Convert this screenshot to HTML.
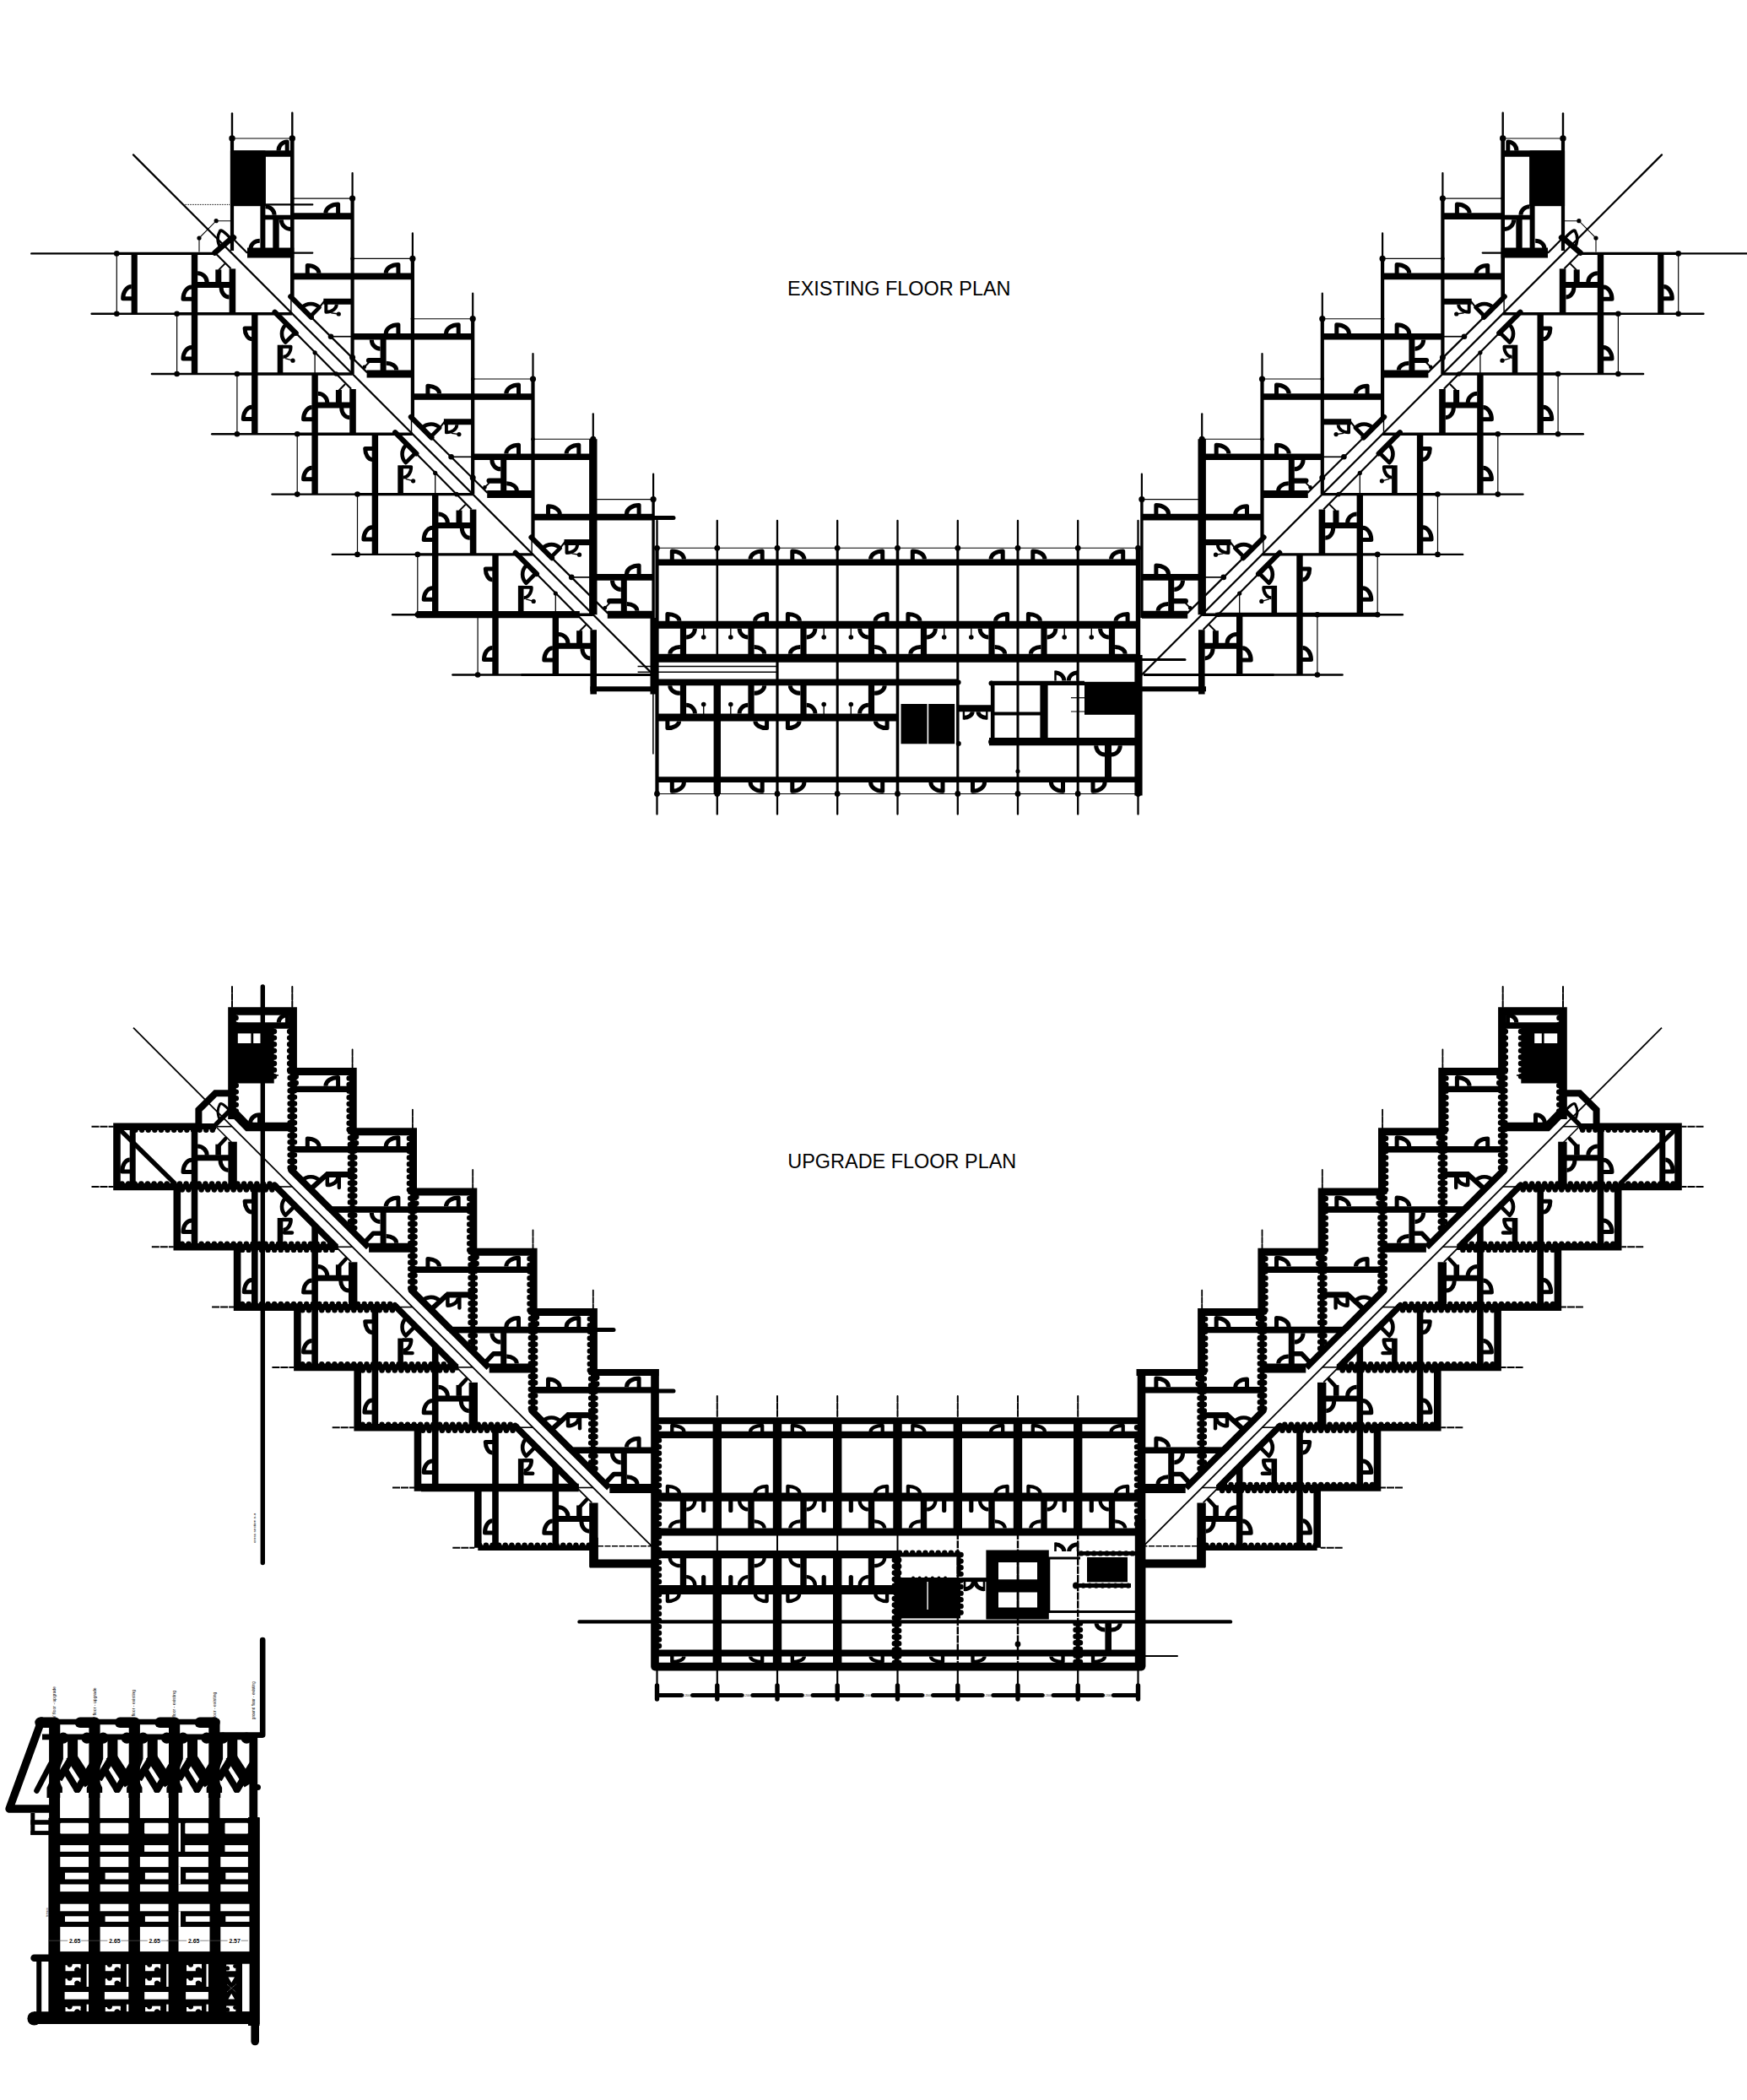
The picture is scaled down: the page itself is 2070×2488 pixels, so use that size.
<!DOCTYPE html>
<html><head><meta charset="utf-8"><title>Floor plans</title>
<style>html,body{margin:0;padding:0;background:#fff}svg{display:block}text{font-family:"Liberation Sans",sans-serif;fill:#000;stroke:none}</style></head><body>
<svg width="2070" height="2488" viewBox="0 0 2070 2488" fill="none" stroke="#000">
<rect width="2070" height="2488" fill="#fff" stroke="none"/>
<g><path d="M275 134.5L275 164" stroke-width="2.4" stroke-linecap="round"/>
<path d="M275 164L275 297" stroke-width="4.2"/>
<path d="M346.3 133.7L346.3 164" stroke-width="2.4" stroke-linecap="round"/>
<path d="M346.3 164L346.3 351.4" stroke-width="4.6"/>
<path d="M344.9 351.4L344.9 371.7" stroke-width="1.4"/>
<circle cx="275" cy="164" r="3.7" fill="#000" stroke="none"/>
<circle cx="346.3" cy="164" r="3.7" fill="#000" stroke="none"/>
<path d="M275 164L346.3 164" stroke-width="1.1"/>
<path d="M273 182L346.3 182" stroke-width="7.4"/>
<rect x="272.9" y="178.4" width="41.4" height="65.8" fill="#000" stroke="none"/>
<path d="M314.2 184L314.2 244" stroke-width="1.4"/>
<path d="M340.2 179.6L340.2 167.9A10.2 10.7 0 0 0 330 178.6" stroke-width="5" stroke-linejoin="round"/>
<path d="M346.3 299.6L370.3 299.6" stroke-width="2.2" stroke-linecap="round"/>
<path d="M311.4 244L311.4 299.5" stroke-width="6"/>
<path d="M314 257.5L346.3 257.5" stroke-width="5.4"/>
<path d="M327 260L327 294" stroke-width="7.4"/>
<path d="M293 299.5L348.3 299.5" stroke-width="12"/>
<path d="M314.4 244.7A10.7 10.1 0 0 1 325.1 254.8" stroke-width="5"/>
<path d="M333.3 260.2A10.9 11.2 0 0 0 344.2 271.4" stroke-width="5"/>
<path d="M297.1 294A10.7 8.7 0 0 1 307.8 285.3" stroke-width="5"/>
<path d="M275 261.7L256.1 261.7L236 282L236 298.6" stroke-width="1.1" stroke-linejoin="miter" stroke-linecap="butt"/>
<circle cx="256.1" cy="261.7" r="2.6" fill="#000" stroke="none"/>
<circle cx="236" cy="282" r="2.6" fill="#000" stroke="none"/>
<circle cx="277.5" cy="281.5" r="2.8" fill="#000" stroke="none"/>
<path d="M254.5 299.5L276 281" stroke-width="6.6" stroke-linecap="round"/>
<path d="M274 283.5Q262 270 260.5 274Q255 284 262 295" stroke-width="3.6" stroke-linejoin="round"/>
<path d="M275.6 282.3L293 299.7" stroke-width="2.2"/>
<path d="M158 183.4L775.5 800.9" stroke-width="2.2" stroke-linecap="round"/>
<path d="M253.5 298.2L273.5 318.2" stroke-width="2.2"/>
<path d="M774.1 561.6L774.1 591.6" stroke-width="2.2" stroke-linecap="round"/>
<path d="M774.1 591.6L774.1 732" stroke-width="3.4"/>
<path d="M37.3 300.4L138.3 300.4" stroke-width="2.4" stroke-linecap="round"/>
<path d="M138.3 300.4L256 300.4" stroke-width="3.4"/>
<path d="M138.3 300.4L138.3 371.7" stroke-width="1.2"/>
<circle cx="138.3" cy="300.4" r="3.3" fill="#000" stroke="none"/>
<circle cx="138.3" cy="371.7" r="3.3" fill="#000" stroke="none"/>
<path d="M159.2 300.4L159.2 371.7" stroke-width="7.2"/>
<path d="M230.5 300.4L230.5 443" stroke-width="7.4"/>
<path d="M156.8 353.8L145.7 353.8A10.1 14.2 0 0 1 155.8 339.6" stroke-width="5" stroke-linejoin="round"/>
<path d="M228.1 354.2L217 354.2A10.1 14.2 0 0 1 227.1 340" stroke-width="5" stroke-linejoin="round"/>
<path d="M230.5 337.4L275 337.4" stroke-width="7"/>
<path d="M275.4 318.4L275.4 371.7" stroke-width="7.6"/>
<path d="M258.8 319.4L258.8 334.4" stroke-width="7"/>
<path d="M234.1 323.7A11.1 10.7 0 0 1 245.2 334.4" stroke-width="5"/>
<path d="M262.1 340.4A9.5 11.7 0 0 0 271.6 352.1" stroke-width="5"/>
<path d="M259 319.9L266.5 312.4" stroke-width="2"/>
<path d="M108.6 371.7L209.6 371.7" stroke-width="2.4" stroke-linecap="round"/>
<path d="M209.6 371.7L346.3 371.7" stroke-width="3.4"/>
<path d="M209.6 371.7L209.6 443" stroke-width="1.2"/>
<circle cx="209.6" cy="371.7" r="3.3" fill="#000" stroke="none"/>
<circle cx="209.6" cy="443" r="3.3" fill="#000" stroke="none"/>
<path d="M301.8 371.7L301.8 514.3" stroke-width="7.4"/>
<path d="M228.1 425.1L217 425.1A10.1 13.5 0 0 1 227.1 411.6" stroke-width="5" stroke-linejoin="round"/>
<path d="M299.4 388.9L290.1 388.9A8.3 12.9 0 0 0 298.4 401.8" stroke-width="5" stroke-linejoin="round"/>
<path d="M325.6 369.7L350.7 394.8" stroke-width="6.2" stroke-linecap="round"/>
<path d="M350.7 394.8L416.1 460.8" stroke-width="2.2"/>
<path d="M348.5 395.3L338.2 405.6A14.6 14.6 0 0 1 338.2 385" stroke-width="4.6" stroke-linejoin="round"/>
<path d="M332 408.7L332 443" stroke-width="6.6"/>
<path d="M334.3 410.7L344.6 410.7A9.3 12.3 0 0 1 335.3 423" stroke-width="3.9" stroke-linejoin="round"/>
<circle cx="347" cy="427.2" r="2.6" fill="#000" stroke="none"/>
<path d="M338 424.7L347 427.2" stroke-width="1.4"/>
<path d="M373.1 417.8L373.1 443" stroke-width="1.3"/>
<circle cx="373.1" cy="417.8" r="2.6" fill="#000" stroke="none"/>
<circle cx="398.3" cy="443" r="2.8" fill="#000" stroke="none"/>
<path d="M179.9 443L280.9 443" stroke-width="2.4" stroke-linecap="round"/>
<path d="M280.9 443L417.6 443" stroke-width="3.4"/>
<path d="M280.9 443L280.9 514.3" stroke-width="1.2"/>
<circle cx="280.9" cy="443" r="3.3" fill="#000" stroke="none"/>
<circle cx="280.9" cy="514.3" r="3.3" fill="#000" stroke="none"/>
<path d="M373.1 443L373.1 585.6" stroke-width="7.4"/>
<path d="M299.4 496.4L288.3 496.4A10.1 14.2 0 0 1 298.4 482.2" stroke-width="5" stroke-linejoin="round"/>
<path d="M370.7 496.8L359.6 496.8A10.1 14.2 0 0 1 369.7 482.6" stroke-width="5" stroke-linejoin="round"/>
<path d="M373.1 480L417.6 480" stroke-width="7"/>
<path d="M418 461L418 514.3" stroke-width="7.6"/>
<path d="M401.4 462L401.4 477" stroke-width="7"/>
<path d="M376.7 466.3A11.1 10.7 0 0 1 387.8 477" stroke-width="5"/>
<path d="M404.7 483A9.5 11.7 0 0 0 414.2 494.7" stroke-width="5"/>
<path d="M401.6 462.5L409.1 455" stroke-width="2"/>
<path d="M251.2 514.3L352.2 514.3" stroke-width="2.4" stroke-linecap="round"/>
<path d="M352.2 514.3L488.9 514.3" stroke-width="3.4"/>
<path d="M352.2 514.3L352.2 585.6" stroke-width="1.2"/>
<circle cx="352.2" cy="514.3" r="3.3" fill="#000" stroke="none"/>
<circle cx="352.2" cy="585.6" r="3.3" fill="#000" stroke="none"/>
<path d="M444.4 514.3L444.4 656.9" stroke-width="7.4"/>
<path d="M370.7 567.7L359.6 567.7A10.1 13.5 0 0 1 369.7 554.2" stroke-width="5" stroke-linejoin="round"/>
<path d="M442 531.5L432.7 531.5A8.3 12.9 0 0 0 441 544.4" stroke-width="5" stroke-linejoin="round"/>
<path d="M468.2 512.3L493.3 537.4" stroke-width="6.2" stroke-linecap="round"/>
<path d="M493.3 537.4L558.7 603.4" stroke-width="2.2"/>
<path d="M491.1 537.9L480.8 548.2A14.6 14.6 0 0 1 480.8 527.6" stroke-width="4.6" stroke-linejoin="round"/>
<path d="M474.6 551.3L474.6 585.6" stroke-width="6.6"/>
<path d="M476.9 553.3L487.2 553.3A9.3 12.3 0 0 1 477.9 565.6" stroke-width="3.9" stroke-linejoin="round"/>
<circle cx="489.6" cy="569.8" r="2.6" fill="#000" stroke="none"/>
<path d="M480.6 567.3L489.6 569.8" stroke-width="1.4"/>
<path d="M515.7 560.4L515.7 585.6" stroke-width="1.3"/>
<circle cx="515.7" cy="560.4" r="2.6" fill="#000" stroke="none"/>
<circle cx="540.9" cy="585.6" r="2.8" fill="#000" stroke="none"/>
<path d="M322.5 585.6L423.5 585.6" stroke-width="2.4" stroke-linecap="round"/>
<path d="M423.5 585.6L560.2 585.6" stroke-width="3.4"/>
<path d="M423.5 585.6L423.5 656.9" stroke-width="1.2"/>
<circle cx="423.5" cy="585.6" r="3.3" fill="#000" stroke="none"/>
<circle cx="423.5" cy="656.9" r="3.3" fill="#000" stroke="none"/>
<path d="M515.7 585.6L515.7 728.2" stroke-width="7.4"/>
<path d="M442 639L430.9 639A10.1 14.2 0 0 1 441 624.8" stroke-width="5" stroke-linejoin="round"/>
<path d="M513.3 639.4L502.2 639.4A10.1 14.2 0 0 1 512.3 625.2" stroke-width="5" stroke-linejoin="round"/>
<path d="M515.7 622.6L560.2 622.6" stroke-width="7"/>
<path d="M560.6 603.6L560.6 656.9" stroke-width="7.6"/>
<path d="M544 604.6L544 619.6" stroke-width="7"/>
<path d="M519.3 608.9A11.1 10.7 0 0 1 530.4 619.6" stroke-width="5"/>
<path d="M547.3 625.6A9.5 11.7 0 0 0 556.8 637.3" stroke-width="5"/>
<path d="M544.2 605.1L551.7 597.6" stroke-width="2"/>
<path d="M393.8 656.9L494.8 656.9" stroke-width="2.4" stroke-linecap="round"/>
<path d="M494.8 656.9L631.5 656.9" stroke-width="3.4"/>
<path d="M494.8 656.9L494.8 728.2" stroke-width="1.2"/>
<circle cx="494.8" cy="656.9" r="3.3" fill="#000" stroke="none"/>
<circle cx="494.8" cy="728.2" r="3.3" fill="#000" stroke="none"/>
<path d="M587 656.9L587 799.5" stroke-width="7.4"/>
<path d="M513.3 710.3L502.2 710.3A10.1 13.5 0 0 1 512.3 696.8" stroke-width="5" stroke-linejoin="round"/>
<path d="M584.6 674.1L575.3 674.1A8.3 12.9 0 0 0 583.6 687" stroke-width="5" stroke-linejoin="round"/>
<path d="M610.8 654.9L635.9 680" stroke-width="6.2" stroke-linecap="round"/>
<path d="M635.9 680L701.3 746" stroke-width="2.2"/>
<path d="M633.7 680.5L623.4 690.8A14.6 14.6 0 0 1 623.4 670.2" stroke-width="4.6" stroke-linejoin="round"/>
<path d="M617.2 693.9L617.2 728.2" stroke-width="6.6"/>
<path d="M619.5 695.9L629.8 695.9A9.3 12.3 0 0 1 620.5 708.2" stroke-width="3.9" stroke-linejoin="round"/>
<circle cx="632.2" cy="712.4" r="2.6" fill="#000" stroke="none"/>
<path d="M623.2 709.9L632.2 712.4" stroke-width="1.4"/>
<path d="M658.3 703L658.3 728.2" stroke-width="1.3"/>
<circle cx="658.3" cy="703" r="2.6" fill="#000" stroke="none"/>
<circle cx="683.5" cy="728.2" r="2.8" fill="#000" stroke="none"/>
<path d="M465.1 728.2L566.1 728.2" stroke-width="2.4" stroke-linecap="round"/>
<path d="M566.1 728.2L702.8 728.2" stroke-width="3.4"/>
<path d="M493.6 728.2L686.8 728.2" stroke-width="8.2"/>
<path d="M566.1 728.2L566.1 799.5" stroke-width="1.2"/>
<circle cx="566.1" cy="728.2" r="3.3" fill="#000" stroke="none"/>
<circle cx="566.1" cy="799.5" r="3.3" fill="#000" stroke="none"/>
<path d="M658.3 728.2L658.3 799.5" stroke-width="7.4"/>
<path d="M584.6 781.6L573.5 781.6A10.1 14.2 0 0 1 583.6 767.4" stroke-width="5" stroke-linejoin="round"/>
<path d="M655.9 782L644.8 782A10.1 14.2 0 0 1 654.9 767.8" stroke-width="5" stroke-linejoin="round"/>
<path d="M658.3 765.2L702.8 765.2" stroke-width="7"/>
<path d="M703.2 746.2L703.2 822.5" stroke-width="7.6"/>
<path d="M686.6 747.2L686.6 762.2" stroke-width="7"/>
<path d="M661.9 751.5A11.1 10.7 0 0 1 673 762.2" stroke-width="5"/>
<path d="M689.9 768.2A9.5 11.7 0 0 0 699.4 779.9" stroke-width="5"/>
<path d="M686.8 747.7L694.3 740.2" stroke-width="2"/>
<path d="M536.4 799.5L617.4 799.5" stroke-width="2.4" stroke-linecap="round"/>
<path d="M617.4 799.5L772 799.5" stroke-width="3"/>
<path d="M417.6 205.1L417.6 235.1" stroke-width="2.2" stroke-linecap="round"/>
<path d="M417.6 235.1L417.6 443" stroke-width="4.2"/>
<path d="M346.3 235.1L417.6 235.1" stroke-width="1.1"/>
<circle cx="346.3" cy="235.1" r="2.3" fill="#000" stroke="none"/>
<circle cx="417.6" cy="235.1" r="3.6" fill="#000" stroke="none"/>
<path d="M346.3 256.1L417.6 256.1" stroke-width="7.6"/>
<path d="M400.6 253.4L400.6 242.1A14.7 10.3 0 0 0 385.9 252.4" stroke-width="5" stroke-linejoin="round"/>
<path d="M346.3 327.4L417.6 327.4" stroke-width="7.6"/>
<path d="M364.3 324.7L364.3 314.6A13.7 9.1 0 0 1 378 323.7" stroke-width="5" stroke-linejoin="round"/>
<path d="M344.3 351.4L368.8 375.9" stroke-width="6.2" stroke-linecap="round"/>
<path d="M383.3 357.2L417.6 357.2" stroke-width="7"/>
<path d="M368.2 374.5L378.5 364.2A14.6 14.6 0 0 0 357.9 364.2" stroke-width="4.6" stroke-linejoin="round"/>
<path d="M378.5 364.2L384.3 356.7" stroke-width="2"/>
<path d="M386.3 359.7L386.3 369.8A12.5 9.1 0 0 0 398.8 360.7" stroke-width="3.9" stroke-linejoin="round"/>
<circle cx="401.3" cy="372" r="2.6" fill="#000" stroke="none"/>
<path d="M392.3 370.7L401.3 372" stroke-width="1.4"/>
<path d="M368.8 375.9L435.1 441.4" stroke-width="2.2"/>
<path d="M488.9 276.4L488.9 306.4" stroke-width="2.2" stroke-linecap="round"/>
<path d="M488.9 306.4L488.9 494" stroke-width="4.2"/>
<path d="M487.5 494L487.5 514.3" stroke-width="1.4"/>
<path d="M417.6 306.4L488.9 306.4" stroke-width="1.1"/>
<circle cx="417.6" cy="306.4" r="2.3" fill="#000" stroke="none"/>
<circle cx="488.9" cy="306.4" r="3.6" fill="#000" stroke="none"/>
<path d="M417.6 327.4L488.9 327.4" stroke-width="7.6"/>
<path d="M471.9 324.7L471.9 313.4A14.7 10.3 0 0 0 457.2 323.7" stroke-width="5" stroke-linejoin="round"/>
<path d="M417.6 398.7L488.9 398.7" stroke-width="7.6"/>
<path d="M471.9 396L471.9 384.7A14.7 10.3 0 0 0 457.2 395" stroke-width="5" stroke-linejoin="round"/>
<path d="M454.1 398.7L454.1 443" stroke-width="7"/>
<path d="M434.6 443L488.9 443" stroke-width="9"/>
<path d="M437 427L450.6 427" stroke-width="6.2" stroke-linecap="round"/>
<path d="M440.3 402.5A10.3 10.7 0 0 0 450.6 413.2" stroke-width="5"/>
<path d="M457.6 430.2A12.1 8.3 0 0 1 469.7 438.5" stroke-width="5"/>
<path d="M392 398.7L417.6 398.7" stroke-width="1.7"/>
<circle cx="392" cy="398.7" r="3.3" fill="#000" stroke="none"/>
<circle cx="417.6" cy="423.4" r="3.5" fill="#000" stroke="none"/>
<path d="M432.1 434.5L437.1 429.5" stroke-width="1.8"/>
<circle cx="431.8" cy="434.8" r="2.3" fill="#000" stroke="none"/>
<path d="M560.2 347.7L560.2 377.7" stroke-width="2.2" stroke-linecap="round"/>
<path d="M560.2 377.7L560.2 585.6" stroke-width="4.2"/>
<path d="M488.9 377.7L560.2 377.7" stroke-width="1.1"/>
<circle cx="488.9" cy="377.7" r="2.3" fill="#000" stroke="none"/>
<circle cx="560.2" cy="377.7" r="3.6" fill="#000" stroke="none"/>
<path d="M488.9 398.7L560.2 398.7" stroke-width="7.6"/>
<path d="M543.2 396L543.2 384.7A14.7 10.3 0 0 0 528.5 395" stroke-width="5" stroke-linejoin="round"/>
<path d="M488.9 470L560.2 470" stroke-width="7.6"/>
<path d="M506.9 467.3L506.9 457.2A13.7 9.1 0 0 1 520.6 466.3" stroke-width="5" stroke-linejoin="round"/>
<path d="M486.9 494L511.4 518.5" stroke-width="6.2" stroke-linecap="round"/>
<path d="M525.9 499.8L560.2 499.8" stroke-width="7"/>
<path d="M510.8 517.1L521.1 506.8A14.6 14.6 0 0 0 500.5 506.8" stroke-width="4.6" stroke-linejoin="round"/>
<path d="M521.1 506.8L526.9 499.3" stroke-width="2"/>
<path d="M528.9 502.3L528.9 512.4A12.5 9.1 0 0 0 541.4 503.3" stroke-width="3.9" stroke-linejoin="round"/>
<circle cx="543.9" cy="514.6" r="2.6" fill="#000" stroke="none"/>
<path d="M534.9 513.3L543.9 514.6" stroke-width="1.4"/>
<path d="M511.4 518.5L577.7 584" stroke-width="2.2"/>
<path d="M631.5 419L631.5 449" stroke-width="2.2" stroke-linecap="round"/>
<path d="M631.5 449L631.5 636.6" stroke-width="4.2"/>
<path d="M630.1 636.6L630.1 656.9" stroke-width="1.4"/>
<path d="M560.2 449L631.5 449" stroke-width="1.1"/>
<circle cx="560.2" cy="449" r="2.3" fill="#000" stroke="none"/>
<circle cx="631.5" cy="449" r="3.6" fill="#000" stroke="none"/>
<path d="M560.2 470L631.5 470" stroke-width="7.6"/>
<path d="M614.5 467.3L614.5 456A14.7 10.3 0 0 0 599.8 466.3" stroke-width="5" stroke-linejoin="round"/>
<path d="M560.2 541.3L631.5 541.3" stroke-width="7.6"/>
<path d="M614.5 538.6L614.5 527.3A14.7 10.3 0 0 0 599.8 537.6" stroke-width="5" stroke-linejoin="round"/>
<path d="M596.7 541.3L596.7 585.6" stroke-width="7"/>
<path d="M577.2 585.6L631.5 585.6" stroke-width="9"/>
<path d="M579.6 569.6L593.2 569.6" stroke-width="6.2" stroke-linecap="round"/>
<path d="M582.9 545.1A10.3 10.7 0 0 0 593.2 555.8" stroke-width="5"/>
<path d="M600.2 572.8A12.1 8.3 0 0 1 612.3 581.1" stroke-width="5"/>
<path d="M534.6 541.3L560.2 541.3" stroke-width="1.7"/>
<circle cx="534.6" cy="541.3" r="3.3" fill="#000" stroke="none"/>
<circle cx="560.2" cy="566" r="3.5" fill="#000" stroke="none"/>
<path d="M574.7 577.1L579.7 572.1" stroke-width="1.8"/>
<circle cx="574.4" cy="577.4" r="2.3" fill="#000" stroke="none"/>
<path d="M702.8 490.3L702.8 520.3" stroke-width="2.2" stroke-linecap="round"/>
<path d="M702.8 520.3L702.8 728.2" stroke-width="9.4"/>
<path d="M631.5 520.3L702.8 520.3" stroke-width="1.1"/>
<circle cx="631.5" cy="520.3" r="2.3" fill="#000" stroke="none"/>
<circle cx="702.8" cy="520.3" r="3.6" fill="#000" stroke="none"/>
<path d="M631.5 541.3L702.8 541.3" stroke-width="7.6"/>
<path d="M685.8 538.6L685.8 527.3A14.7 10.3 0 0 0 671.1 537.6" stroke-width="5" stroke-linejoin="round"/>
<path d="M631.5 612.6L702.8 612.6" stroke-width="7.6"/>
<path d="M649.5 609.9L649.5 599.8A13.7 9.1 0 0 1 663.2 608.9" stroke-width="5" stroke-linejoin="round"/>
<path d="M629.5 636.6L654 661.1" stroke-width="6.2" stroke-linecap="round"/>
<path d="M668.5 642.4L702.8 642.4" stroke-width="7"/>
<path d="M653.4 659.7L663.7 649.4A14.6 14.6 0 0 0 643.1 649.4" stroke-width="4.6" stroke-linejoin="round"/>
<path d="M663.7 649.4L669.5 641.9" stroke-width="2"/>
<path d="M671.5 644.9L671.5 655A12.5 9.1 0 0 0 684 645.9" stroke-width="3.9" stroke-linejoin="round"/>
<circle cx="686.5" cy="657.2" r="2.6" fill="#000" stroke="none"/>
<path d="M677.5 655.9L686.5 657.2" stroke-width="1.4"/>
<path d="M654 661.1L720.3 726.6" stroke-width="2.2"/>
<path d="M702.8 591.6L774.1 591.6" stroke-width="1.1"/>
<circle cx="702.8" cy="591.6" r="2.3" fill="#000" stroke="none"/>
<circle cx="774.1" cy="591.6" r="3.6" fill="#000" stroke="none"/>
<path d="M702.8 612.6L774.1 612.6" stroke-width="7.6"/>
<path d="M757.1 609.9L757.1 598.6A14.7 10.3 0 0 0 742.4 608.9" stroke-width="5" stroke-linejoin="round"/>
<path d="M702.8 683.9L774.1 683.9" stroke-width="7.6"/>
<path d="M757.1 681.2L757.1 669.9A14.7 10.3 0 0 0 742.4 680.2" stroke-width="5" stroke-linejoin="round"/>
<path d="M739.3 683.9L739.3 728.2" stroke-width="7"/>
<path d="M719.8 728.2L774.1 728.2" stroke-width="9"/>
<path d="M722.2 712.2L735.8 712.2" stroke-width="6.2" stroke-linecap="round"/>
<path d="M725.5 687.7A10.3 10.7 0 0 0 735.8 698.4" stroke-width="5"/>
<path d="M742.8 715.4A12.1 8.3 0 0 1 754.9 723.7" stroke-width="5"/>
<path d="M677.2 683.9L702.8 683.9" stroke-width="1.7"/>
<circle cx="677.2" cy="683.9" r="3.3" fill="#000" stroke="none"/>
<circle cx="702.8" cy="708.6" r="3.5" fill="#000" stroke="none"/>
<path d="M717.3 719.7L722.3 714.7" stroke-width="1.8"/>
<circle cx="717" cy="720" r="2.3" fill="#000" stroke="none"/></g>
<path d="M314 242.4H370.3" stroke-width="2.2" stroke-linecap="round"/><path d="M219 242.4H273" stroke-width="1" stroke-dasharray="1 1"/>
<g transform="translate(2127 0) scale(-1 1)"><path d="M275 134.5L275 164" stroke-width="2.4" stroke-linecap="round"/>
<path d="M275 164L275 297" stroke-width="4.2"/>
<path d="M346.3 133.7L346.3 164" stroke-width="2.4" stroke-linecap="round"/>
<path d="M346.3 164L346.3 351.4" stroke-width="4.6"/>
<path d="M344.9 351.4L344.9 371.7" stroke-width="1.4"/>
<circle cx="275" cy="164" r="3.7" fill="#000" stroke="none"/>
<circle cx="346.3" cy="164" r="3.7" fill="#000" stroke="none"/>
<path d="M275 164L346.3 164" stroke-width="1.1"/>
<path d="M273 182L346.3 182" stroke-width="7.4"/>
<rect x="272.9" y="178.4" width="41.4" height="65.8" fill="#000" stroke="none"/>
<path d="M314.2 184L314.2 244" stroke-width="1.4"/>
<path d="M340.2 179.6L340.2 167.9A10.2 10.7 0 0 0 330 178.6" stroke-width="5" stroke-linejoin="round"/>
<path d="M346.3 299.6L370.3 299.6" stroke-width="2.2" stroke-linecap="round"/>
<path d="M311.4 244L311.4 299.5" stroke-width="6"/>
<path d="M314 257.5L346.3 257.5" stroke-width="5.4"/>
<path d="M327 260L327 294" stroke-width="7.4"/>
<path d="M293 299.5L348.3 299.5" stroke-width="12"/>
<path d="M314.4 244.7A10.7 10.1 0 0 1 325.1 254.8" stroke-width="5"/>
<path d="M333.3 260.2A10.9 11.2 0 0 0 344.2 271.4" stroke-width="5"/>
<path d="M297.1 294A10.7 8.7 0 0 1 307.8 285.3" stroke-width="5"/>
<path d="M275 261.7L256.1 261.7L236 282L236 298.6" stroke-width="1.1" stroke-linejoin="miter" stroke-linecap="butt"/>
<circle cx="256.1" cy="261.7" r="2.6" fill="#000" stroke="none"/>
<circle cx="236" cy="282" r="2.6" fill="#000" stroke="none"/>
<circle cx="277.5" cy="281.5" r="2.8" fill="#000" stroke="none"/>
<path d="M254.5 299.5L276 281" stroke-width="6.6" stroke-linecap="round"/>
<path d="M274 283.5Q262 270 260.5 274Q255 284 262 295" stroke-width="3.6" stroke-linejoin="round"/>
<path d="M275.6 282.3L293 299.7" stroke-width="2.2"/>
<path d="M158 183.4L775.5 800.9" stroke-width="2.2" stroke-linecap="round"/>
<path d="M253.5 298.2L273.5 318.2" stroke-width="2.2"/>
<path d="M774.1 561.6L774.1 591.6" stroke-width="2.2" stroke-linecap="round"/>
<path d="M774.1 591.6L774.1 732" stroke-width="3.4"/>
<path d="M37.3 300.4L138.3 300.4" stroke-width="2.4" stroke-linecap="round"/>
<path d="M138.3 300.4L256 300.4" stroke-width="3.4"/>
<path d="M138.3 300.4L138.3 371.7" stroke-width="1.2"/>
<circle cx="138.3" cy="300.4" r="3.3" fill="#000" stroke="none"/>
<circle cx="138.3" cy="371.7" r="3.3" fill="#000" stroke="none"/>
<path d="M159.2 300.4L159.2 371.7" stroke-width="7.2"/>
<path d="M230.5 300.4L230.5 443" stroke-width="7.4"/>
<path d="M156.8 353.8L145.7 353.8A10.1 14.2 0 0 1 155.8 339.6" stroke-width="5" stroke-linejoin="round"/>
<path d="M228.1 354.2L217 354.2A10.1 14.2 0 0 1 227.1 340" stroke-width="5" stroke-linejoin="round"/>
<path d="M230.5 337.4L275 337.4" stroke-width="7"/>
<path d="M275.4 318.4L275.4 371.7" stroke-width="7.6"/>
<path d="M258.8 319.4L258.8 334.4" stroke-width="7"/>
<path d="M234.1 323.7A11.1 10.7 0 0 1 245.2 334.4" stroke-width="5"/>
<path d="M262.1 340.4A9.5 11.7 0 0 0 271.6 352.1" stroke-width="5"/>
<path d="M259 319.9L266.5 312.4" stroke-width="2"/>
<path d="M108.6 371.7L209.6 371.7" stroke-width="2.4" stroke-linecap="round"/>
<path d="M209.6 371.7L346.3 371.7" stroke-width="3.4"/>
<path d="M209.6 371.7L209.6 443" stroke-width="1.2"/>
<circle cx="209.6" cy="371.7" r="3.3" fill="#000" stroke="none"/>
<circle cx="209.6" cy="443" r="3.3" fill="#000" stroke="none"/>
<path d="M301.8 371.7L301.8 514.3" stroke-width="7.4"/>
<path d="M228.1 425.1L217 425.1A10.1 13.5 0 0 1 227.1 411.6" stroke-width="5" stroke-linejoin="round"/>
<path d="M299.4 388.9L290.1 388.9A8.3 12.9 0 0 0 298.4 401.8" stroke-width="5" stroke-linejoin="round"/>
<path d="M325.6 369.7L350.7 394.8" stroke-width="6.2" stroke-linecap="round"/>
<path d="M350.7 394.8L416.1 460.8" stroke-width="2.2"/>
<path d="M348.5 395.3L338.2 405.6A14.6 14.6 0 0 1 338.2 385" stroke-width="4.6" stroke-linejoin="round"/>
<path d="M332 408.7L332 443" stroke-width="6.6"/>
<path d="M334.3 410.7L344.6 410.7A9.3 12.3 0 0 1 335.3 423" stroke-width="3.9" stroke-linejoin="round"/>
<circle cx="347" cy="427.2" r="2.6" fill="#000" stroke="none"/>
<path d="M338 424.7L347 427.2" stroke-width="1.4"/>
<path d="M373.1 417.8L373.1 443" stroke-width="1.3"/>
<circle cx="373.1" cy="417.8" r="2.6" fill="#000" stroke="none"/>
<circle cx="398.3" cy="443" r="2.8" fill="#000" stroke="none"/>
<path d="M179.9 443L280.9 443" stroke-width="2.4" stroke-linecap="round"/>
<path d="M280.9 443L417.6 443" stroke-width="3.4"/>
<path d="M280.9 443L280.9 514.3" stroke-width="1.2"/>
<circle cx="280.9" cy="443" r="3.3" fill="#000" stroke="none"/>
<circle cx="280.9" cy="514.3" r="3.3" fill="#000" stroke="none"/>
<path d="M373.1 443L373.1 585.6" stroke-width="7.4"/>
<path d="M299.4 496.4L288.3 496.4A10.1 14.2 0 0 1 298.4 482.2" stroke-width="5" stroke-linejoin="round"/>
<path d="M370.7 496.8L359.6 496.8A10.1 14.2 0 0 1 369.7 482.6" stroke-width="5" stroke-linejoin="round"/>
<path d="M373.1 480L417.6 480" stroke-width="7"/>
<path d="M418 461L418 514.3" stroke-width="7.6"/>
<path d="M401.4 462L401.4 477" stroke-width="7"/>
<path d="M376.7 466.3A11.1 10.7 0 0 1 387.8 477" stroke-width="5"/>
<path d="M404.7 483A9.5 11.7 0 0 0 414.2 494.7" stroke-width="5"/>
<path d="M401.6 462.5L409.1 455" stroke-width="2"/>
<path d="M251.2 514.3L352.2 514.3" stroke-width="2.4" stroke-linecap="round"/>
<path d="M352.2 514.3L488.9 514.3" stroke-width="3.4"/>
<path d="M352.2 514.3L352.2 585.6" stroke-width="1.2"/>
<circle cx="352.2" cy="514.3" r="3.3" fill="#000" stroke="none"/>
<circle cx="352.2" cy="585.6" r="3.3" fill="#000" stroke="none"/>
<path d="M444.4 514.3L444.4 656.9" stroke-width="7.4"/>
<path d="M370.7 567.7L359.6 567.7A10.1 13.5 0 0 1 369.7 554.2" stroke-width="5" stroke-linejoin="round"/>
<path d="M442 531.5L432.7 531.5A8.3 12.9 0 0 0 441 544.4" stroke-width="5" stroke-linejoin="round"/>
<path d="M468.2 512.3L493.3 537.4" stroke-width="6.2" stroke-linecap="round"/>
<path d="M493.3 537.4L558.7 603.4" stroke-width="2.2"/>
<path d="M491.1 537.9L480.8 548.2A14.6 14.6 0 0 1 480.8 527.6" stroke-width="4.6" stroke-linejoin="round"/>
<path d="M474.6 551.3L474.6 585.6" stroke-width="6.6"/>
<path d="M476.9 553.3L487.2 553.3A9.3 12.3 0 0 1 477.9 565.6" stroke-width="3.9" stroke-linejoin="round"/>
<circle cx="489.6" cy="569.8" r="2.6" fill="#000" stroke="none"/>
<path d="M480.6 567.3L489.6 569.8" stroke-width="1.4"/>
<path d="M515.7 560.4L515.7 585.6" stroke-width="1.3"/>
<circle cx="515.7" cy="560.4" r="2.6" fill="#000" stroke="none"/>
<circle cx="540.9" cy="585.6" r="2.8" fill="#000" stroke="none"/>
<path d="M322.5 585.6L423.5 585.6" stroke-width="2.4" stroke-linecap="round"/>
<path d="M423.5 585.6L560.2 585.6" stroke-width="3.4"/>
<path d="M423.5 585.6L423.5 656.9" stroke-width="1.2"/>
<circle cx="423.5" cy="585.6" r="3.3" fill="#000" stroke="none"/>
<circle cx="423.5" cy="656.9" r="3.3" fill="#000" stroke="none"/>
<path d="M515.7 585.6L515.7 728.2" stroke-width="7.4"/>
<path d="M442 639L430.9 639A10.1 14.2 0 0 1 441 624.8" stroke-width="5" stroke-linejoin="round"/>
<path d="M513.3 639.4L502.2 639.4A10.1 14.2 0 0 1 512.3 625.2" stroke-width="5" stroke-linejoin="round"/>
<path d="M515.7 622.6L560.2 622.6" stroke-width="7"/>
<path d="M560.6 603.6L560.6 656.9" stroke-width="7.6"/>
<path d="M544 604.6L544 619.6" stroke-width="7"/>
<path d="M519.3 608.9A11.1 10.7 0 0 1 530.4 619.6" stroke-width="5"/>
<path d="M547.3 625.6A9.5 11.7 0 0 0 556.8 637.3" stroke-width="5"/>
<path d="M544.2 605.1L551.7 597.6" stroke-width="2"/>
<path d="M393.8 656.9L494.8 656.9" stroke-width="2.4" stroke-linecap="round"/>
<path d="M494.8 656.9L631.5 656.9" stroke-width="3.4"/>
<path d="M494.8 656.9L494.8 728.2" stroke-width="1.2"/>
<circle cx="494.8" cy="656.9" r="3.3" fill="#000" stroke="none"/>
<circle cx="494.8" cy="728.2" r="3.3" fill="#000" stroke="none"/>
<path d="M587 656.9L587 799.5" stroke-width="7.4"/>
<path d="M513.3 710.3L502.2 710.3A10.1 13.5 0 0 1 512.3 696.8" stroke-width="5" stroke-linejoin="round"/>
<path d="M584.6 674.1L575.3 674.1A8.3 12.9 0 0 0 583.6 687" stroke-width="5" stroke-linejoin="round"/>
<path d="M610.8 654.9L635.9 680" stroke-width="6.2" stroke-linecap="round"/>
<path d="M635.9 680L701.3 746" stroke-width="2.2"/>
<path d="M633.7 680.5L623.4 690.8A14.6 14.6 0 0 1 623.4 670.2" stroke-width="4.6" stroke-linejoin="round"/>
<path d="M617.2 693.9L617.2 728.2" stroke-width="6.6"/>
<path d="M619.5 695.9L629.8 695.9A9.3 12.3 0 0 1 620.5 708.2" stroke-width="3.9" stroke-linejoin="round"/>
<circle cx="632.2" cy="712.4" r="2.6" fill="#000" stroke="none"/>
<path d="M623.2 709.9L632.2 712.4" stroke-width="1.4"/>
<path d="M658.3 703L658.3 728.2" stroke-width="1.3"/>
<circle cx="658.3" cy="703" r="2.6" fill="#000" stroke="none"/>
<circle cx="683.5" cy="728.2" r="2.8" fill="#000" stroke="none"/>
<path d="M465.1 728.2L566.1 728.2" stroke-width="2.4" stroke-linecap="round"/>
<path d="M566.1 728.2L702.8 728.2" stroke-width="3.4"/>
<path d="M493.6 728.2L686.8 728.2" stroke-width="5"/>
<path d="M566.1 728.2L566.1 799.5" stroke-width="1.2"/>
<circle cx="566.1" cy="728.2" r="3.3" fill="#000" stroke="none"/>
<circle cx="566.1" cy="799.5" r="3.3" fill="#000" stroke="none"/>
<path d="M658.3 728.2L658.3 799.5" stroke-width="7.4"/>
<path d="M584.6 781.6L573.5 781.6A10.1 14.2 0 0 1 583.6 767.4" stroke-width="5" stroke-linejoin="round"/>
<path d="M655.9 782L644.8 782A10.1 14.2 0 0 1 654.9 767.8" stroke-width="5" stroke-linejoin="round"/>
<path d="M658.3 765.2L702.8 765.2" stroke-width="7"/>
<path d="M703.2 746.2L703.2 822.5" stroke-width="7.6"/>
<path d="M686.6 747.2L686.6 762.2" stroke-width="7"/>
<path d="M661.9 751.5A11.1 10.7 0 0 1 673 762.2" stroke-width="5"/>
<path d="M689.9 768.2A9.5 11.7 0 0 0 699.4 779.9" stroke-width="5"/>
<path d="M686.8 747.7L694.3 740.2" stroke-width="2"/>
<path d="M536.4 799.5L617.4 799.5" stroke-width="2.4" stroke-linecap="round"/>
<path d="M617.4 799.5L772 799.5" stroke-width="3"/>
<path d="M417.6 205.1L417.6 235.1" stroke-width="2.2" stroke-linecap="round"/>
<path d="M417.6 235.1L417.6 443" stroke-width="4.2"/>
<path d="M346.3 235.1L417.6 235.1" stroke-width="1.1"/>
<circle cx="346.3" cy="235.1" r="2.3" fill="#000" stroke="none"/>
<circle cx="417.6" cy="235.1" r="3.6" fill="#000" stroke="none"/>
<path d="M346.3 256.1L417.6 256.1" stroke-width="7.6"/>
<path d="M400.6 253.4L400.6 242.1A14.7 10.3 0 0 0 385.9 252.4" stroke-width="5" stroke-linejoin="round"/>
<path d="M346.3 327.4L417.6 327.4" stroke-width="7.6"/>
<path d="M364.3 324.7L364.3 314.6A13.7 9.1 0 0 1 378 323.7" stroke-width="5" stroke-linejoin="round"/>
<path d="M344.3 351.4L368.8 375.9" stroke-width="6.2" stroke-linecap="round"/>
<path d="M383.3 357.2L417.6 357.2" stroke-width="7"/>
<path d="M368.2 374.5L378.5 364.2A14.6 14.6 0 0 0 357.9 364.2" stroke-width="4.6" stroke-linejoin="round"/>
<path d="M378.5 364.2L384.3 356.7" stroke-width="2"/>
<path d="M386.3 359.7L386.3 369.8A12.5 9.1 0 0 0 398.8 360.7" stroke-width="3.9" stroke-linejoin="round"/>
<circle cx="401.3" cy="372" r="2.6" fill="#000" stroke="none"/>
<path d="M392.3 370.7L401.3 372" stroke-width="1.4"/>
<path d="M368.8 375.9L435.1 441.4" stroke-width="2.2"/>
<path d="M488.9 276.4L488.9 306.4" stroke-width="2.2" stroke-linecap="round"/>
<path d="M488.9 306.4L488.9 494" stroke-width="4.2"/>
<path d="M487.5 494L487.5 514.3" stroke-width="1.4"/>
<path d="M417.6 306.4L488.9 306.4" stroke-width="1.1"/>
<circle cx="417.6" cy="306.4" r="2.3" fill="#000" stroke="none"/>
<circle cx="488.9" cy="306.4" r="3.6" fill="#000" stroke="none"/>
<path d="M417.6 327.4L488.9 327.4" stroke-width="7.6"/>
<path d="M471.9 324.7L471.9 313.4A14.7 10.3 0 0 0 457.2 323.7" stroke-width="5" stroke-linejoin="round"/>
<path d="M417.6 398.7L488.9 398.7" stroke-width="7.6"/>
<path d="M471.9 396L471.9 384.7A14.7 10.3 0 0 0 457.2 395" stroke-width="5" stroke-linejoin="round"/>
<path d="M454.1 398.7L454.1 443" stroke-width="7"/>
<path d="M434.6 443L488.9 443" stroke-width="9"/>
<path d="M437 427L450.6 427" stroke-width="6.2" stroke-linecap="round"/>
<path d="M440.3 402.5A10.3 10.7 0 0 0 450.6 413.2" stroke-width="5"/>
<path d="M457.6 430.2A12.1 8.3 0 0 1 469.7 438.5" stroke-width="5"/>
<path d="M392 398.7L417.6 398.7" stroke-width="1.7"/>
<circle cx="392" cy="398.7" r="3.3" fill="#000" stroke="none"/>
<circle cx="417.6" cy="423.4" r="3.5" fill="#000" stroke="none"/>
<path d="M432.1 434.5L437.1 429.5" stroke-width="1.8"/>
<circle cx="431.8" cy="434.8" r="2.3" fill="#000" stroke="none"/>
<path d="M560.2 347.7L560.2 377.7" stroke-width="2.2" stroke-linecap="round"/>
<path d="M560.2 377.7L560.2 585.6" stroke-width="4.2"/>
<path d="M488.9 377.7L560.2 377.7" stroke-width="1.1"/>
<circle cx="488.9" cy="377.7" r="2.3" fill="#000" stroke="none"/>
<circle cx="560.2" cy="377.7" r="3.6" fill="#000" stroke="none"/>
<path d="M488.9 398.7L560.2 398.7" stroke-width="7.6"/>
<path d="M543.2 396L543.2 384.7A14.7 10.3 0 0 0 528.5 395" stroke-width="5" stroke-linejoin="round"/>
<path d="M488.9 470L560.2 470" stroke-width="7.6"/>
<path d="M506.9 467.3L506.9 457.2A13.7 9.1 0 0 1 520.6 466.3" stroke-width="5" stroke-linejoin="round"/>
<path d="M486.9 494L511.4 518.5" stroke-width="6.2" stroke-linecap="round"/>
<path d="M525.9 499.8L560.2 499.8" stroke-width="7"/>
<path d="M510.8 517.1L521.1 506.8A14.6 14.6 0 0 0 500.5 506.8" stroke-width="4.6" stroke-linejoin="round"/>
<path d="M521.1 506.8L526.9 499.3" stroke-width="2"/>
<path d="M528.9 502.3L528.9 512.4A12.5 9.1 0 0 0 541.4 503.3" stroke-width="3.9" stroke-linejoin="round"/>
<circle cx="543.9" cy="514.6" r="2.6" fill="#000" stroke="none"/>
<path d="M534.9 513.3L543.9 514.6" stroke-width="1.4"/>
<path d="M511.4 518.5L577.7 584" stroke-width="2.2"/>
<path d="M631.5 419L631.5 449" stroke-width="2.2" stroke-linecap="round"/>
<path d="M631.5 449L631.5 636.6" stroke-width="4.2"/>
<path d="M630.1 636.6L630.1 656.9" stroke-width="1.4"/>
<path d="M560.2 449L631.5 449" stroke-width="1.1"/>
<circle cx="560.2" cy="449" r="2.3" fill="#000" stroke="none"/>
<circle cx="631.5" cy="449" r="3.6" fill="#000" stroke="none"/>
<path d="M560.2 470L631.5 470" stroke-width="7.6"/>
<path d="M614.5 467.3L614.5 456A14.7 10.3 0 0 0 599.8 466.3" stroke-width="5" stroke-linejoin="round"/>
<path d="M560.2 541.3L631.5 541.3" stroke-width="7.6"/>
<path d="M614.5 538.6L614.5 527.3A14.7 10.3 0 0 0 599.8 537.6" stroke-width="5" stroke-linejoin="round"/>
<path d="M596.7 541.3L596.7 585.6" stroke-width="7"/>
<path d="M577.2 585.6L631.5 585.6" stroke-width="9"/>
<path d="M579.6 569.6L593.2 569.6" stroke-width="6.2" stroke-linecap="round"/>
<path d="M582.9 545.1A10.3 10.7 0 0 0 593.2 555.8" stroke-width="5"/>
<path d="M600.2 572.8A12.1 8.3 0 0 1 612.3 581.1" stroke-width="5"/>
<path d="M534.6 541.3L560.2 541.3" stroke-width="1.7"/>
<circle cx="534.6" cy="541.3" r="3.3" fill="#000" stroke="none"/>
<circle cx="560.2" cy="566" r="3.5" fill="#000" stroke="none"/>
<path d="M574.7 577.1L579.7 572.1" stroke-width="1.8"/>
<circle cx="574.4" cy="577.4" r="2.3" fill="#000" stroke="none"/>
<path d="M702.8 490.3L702.8 520.3" stroke-width="2.2" stroke-linecap="round"/>
<path d="M702.8 520.3L702.8 728.2" stroke-width="9.4"/>
<path d="M631.5 520.3L702.8 520.3" stroke-width="1.1"/>
<circle cx="631.5" cy="520.3" r="2.3" fill="#000" stroke="none"/>
<circle cx="702.8" cy="520.3" r="3.6" fill="#000" stroke="none"/>
<path d="M631.5 541.3L702.8 541.3" stroke-width="7.6"/>
<path d="M685.8 538.6L685.8 527.3A14.7 10.3 0 0 0 671.1 537.6" stroke-width="5" stroke-linejoin="round"/>
<path d="M631.5 612.6L702.8 612.6" stroke-width="7.6"/>
<path d="M649.5 609.9L649.5 599.8A13.7 9.1 0 0 1 663.2 608.9" stroke-width="5" stroke-linejoin="round"/>
<path d="M629.5 636.6L654 661.1" stroke-width="6.2" stroke-linecap="round"/>
<path d="M668.5 642.4L702.8 642.4" stroke-width="7"/>
<path d="M653.4 659.7L663.7 649.4A14.6 14.6 0 0 0 643.1 649.4" stroke-width="4.6" stroke-linejoin="round"/>
<path d="M663.7 649.4L669.5 641.9" stroke-width="2"/>
<path d="M671.5 644.9L671.5 655A12.5 9.1 0 0 0 684 645.9" stroke-width="3.9" stroke-linejoin="round"/>
<circle cx="686.5" cy="657.2" r="2.6" fill="#000" stroke="none"/>
<path d="M677.5 655.9L686.5 657.2" stroke-width="1.4"/>
<path d="M654 661.1L720.3 726.6" stroke-width="2.2"/>
<path d="M702.8 591.6L774.1 591.6" stroke-width="1.1"/>
<circle cx="702.8" cy="591.6" r="2.3" fill="#000" stroke="none"/>
<circle cx="774.1" cy="591.6" r="3.6" fill="#000" stroke="none"/>
<path d="M702.8 612.6L774.1 612.6" stroke-width="7.6"/>
<path d="M757.1 609.9L757.1 598.6A14.7 10.3 0 0 0 742.4 608.9" stroke-width="5" stroke-linejoin="round"/>
<path d="M702.8 683.9L774.1 683.9" stroke-width="7.6"/>
<path d="M757.1 681.2L757.1 669.9A14.7 10.3 0 0 0 742.4 680.2" stroke-width="5" stroke-linejoin="round"/>
<path d="M739.3 683.9L739.3 728.2" stroke-width="7"/>
<path d="M719.8 728.2L774.1 728.2" stroke-width="9"/>
<path d="M722.2 712.2L735.8 712.2" stroke-width="6.2" stroke-linecap="round"/>
<path d="M725.5 687.7A10.3 10.7 0 0 0 735.8 698.4" stroke-width="5"/>
<path d="M742.8 715.4A12.1 8.3 0 0 1 754.9 723.7" stroke-width="5"/>
<path d="M677.2 683.9L702.8 683.9" stroke-width="1.7"/>
<circle cx="677.2" cy="683.9" r="3.3" fill="#000" stroke="none"/>
<circle cx="702.8" cy="708.6" r="3.5" fill="#000" stroke="none"/>
<path d="M717.3 719.7L722.3 714.7" stroke-width="1.8"/>
<circle cx="717" cy="720" r="2.3" fill="#000" stroke="none"/></g>
<g><path d="M778.5 617L778.5 649.3" stroke-width="2.3" stroke-linecap="round"/>
<path d="M778.5 940.5L778.5 964.5" stroke-width="2.3" stroke-linecap="round"/>
<circle cx="778.5" cy="649.3" r="3.4" fill="#000" stroke="none"/>
<circle cx="778.5" cy="940.5" r="3.4" fill="#000" stroke="none"/>
<path d="M849.8 617L849.8 649.3" stroke-width="2.3" stroke-linecap="round"/>
<path d="M849.8 940.5L849.8 964.5" stroke-width="2.3" stroke-linecap="round"/>
<circle cx="849.8" cy="649.3" r="3.4" fill="#000" stroke="none"/>
<circle cx="849.8" cy="940.5" r="3.4" fill="#000" stroke="none"/>
<path d="M921 617L921 649.3" stroke-width="2.3" stroke-linecap="round"/>
<path d="M921 940.5L921 964.5" stroke-width="2.3" stroke-linecap="round"/>
<circle cx="921" cy="649.3" r="3.4" fill="#000" stroke="none"/>
<circle cx="921" cy="940.5" r="3.4" fill="#000" stroke="none"/>
<path d="M992.2 617L992.2 649.3" stroke-width="2.3" stroke-linecap="round"/>
<path d="M992.2 940.5L992.2 964.5" stroke-width="2.3" stroke-linecap="round"/>
<circle cx="992.2" cy="649.3" r="3.4" fill="#000" stroke="none"/>
<circle cx="992.2" cy="940.5" r="3.4" fill="#000" stroke="none"/>
<path d="M1063.5 617L1063.5 649.3" stroke-width="2.3" stroke-linecap="round"/>
<path d="M1063.5 940.5L1063.5 964.5" stroke-width="2.3" stroke-linecap="round"/>
<circle cx="1063.5" cy="649.3" r="3.4" fill="#000" stroke="none"/>
<circle cx="1063.5" cy="940.5" r="3.4" fill="#000" stroke="none"/>
<path d="M1134.8 617L1134.8 649.3" stroke-width="2.3" stroke-linecap="round"/>
<path d="M1134.8 940.5L1134.8 964.5" stroke-width="2.3" stroke-linecap="round"/>
<circle cx="1134.8" cy="649.3" r="3.4" fill="#000" stroke="none"/>
<circle cx="1134.8" cy="940.5" r="3.4" fill="#000" stroke="none"/>
<path d="M1206 617L1206 649.3" stroke-width="2.3" stroke-linecap="round"/>
<path d="M1206 940.5L1206 964.5" stroke-width="2.3" stroke-linecap="round"/>
<circle cx="1206" cy="649.3" r="3.4" fill="#000" stroke="none"/>
<circle cx="1206" cy="940.5" r="3.4" fill="#000" stroke="none"/>
<path d="M1277.2 617L1277.2 649.3" stroke-width="2.3" stroke-linecap="round"/>
<path d="M1277.2 940.5L1277.2 964.5" stroke-width="2.3" stroke-linecap="round"/>
<circle cx="1277.2" cy="649.3" r="3.4" fill="#000" stroke="none"/>
<circle cx="1277.2" cy="940.5" r="3.4" fill="#000" stroke="none"/>
<path d="M1348.5 617L1348.5 649.3" stroke-width="2.3" stroke-linecap="round"/>
<path d="M1348.5 940.5L1348.5 964.5" stroke-width="2.3" stroke-linecap="round"/>
<circle cx="1348.5" cy="649.3" r="3.4" fill="#000" stroke="none"/>
<circle cx="1348.5" cy="940.5" r="3.4" fill="#000" stroke="none"/>
<path d="M778.5 649.3L1348.5 649.3" stroke-width="1.1"/>
<path d="M778.5 940.5L1348.5 940.5" stroke-width="1.1"/>
<path d="M778.5 649.3L778.5 940.5" stroke-width="4.2"/>
<path d="M774.5 732L774.5 822.6" stroke-width="8"/>
<path d="M773.9 822L773.9 893.6" stroke-width="1.5"/>
<path d="M849.8 649.3L849.8 779.7" stroke-width="2.6"/>
<path d="M849.8 808.4L849.8 940.5" stroke-width="8.4"/>
<path d="M921 649.3L921 940.5" stroke-width="3.2"/>
<path d="M992.2 649.3L992.2 940.5" stroke-width="3"/>
<path d="M1063.5 649.3L1063.5 940.5" stroke-width="3.6"/>
<path d="M1134.8 649.3L1134.8 940.5" stroke-width="3"/>
<path d="M1206 649.3L1206 940.5" stroke-width="3"/>
<path d="M1277.2 649.3L1277.2 940.5" stroke-width="3"/>
<path d="M1348.5 649.3L1348.5 780" stroke-width="5.4"/>
<path d="M1349 776L1349 942.5" stroke-width="9.2"/>
<path d="M778.5 666.2L1348.5 666.2" stroke-width="7.6"/>
<path d="M778.5 740.2L1348.5 740.2" stroke-width="9"/>
<path d="M778.5 779.7L1348.5 779.7" stroke-width="10"/>
<path d="M778.5 808.4L1135.8 808.4" stroke-width="7.6"/>
<path d="M778.5 850L1063.5 850" stroke-width="9"/>
<path d="M778.5 923.6L1348.5 923.6" stroke-width="6.6"/>
<path d="M755.6 789.4L921 789.4" stroke-width="1.5"/>
<path d="M755.6 796.3L921 796.3" stroke-width="1.5"/>
<path d="M796.3 663.4L796.3 652.9A14.1 9.5 0 0 1 810.4 662.4" stroke-width="5" stroke-linejoin="round"/>
<path d="M790.9 736.7L790.9 727.4A14.1 8.3 0 0 1 805 735.7" stroke-width="5" stroke-linejoin="round"/>
<path d="M809.5 740.2L809.5 779.7" stroke-width="7.2"/>
<path d="M823.4 744.7A10.3 10.3 0 0 1 813.1 755" stroke-width="5"/>
<path d="M793.8 774.7A12.1 8.2 0 0 1 805.9 766.5" stroke-width="5"/>
<path d="M833.7 744.2L833.7 755" stroke-width="1.4"/>
<circle cx="833.7" cy="755" r="2.8" fill="#000" stroke="none"/>
<path d="M809.5 808.4L809.5 850" stroke-width="7.2"/>
<path d="M793.8 812.2A12.1 9.1 0 0 0 805.9 821.3" stroke-width="5"/>
<path d="M823.4 845.5A10.3 10.3 0 0 0 813.1 835.2" stroke-width="5"/>
<path d="M833.7 834.5L833.7 846" stroke-width="1.4"/>
<circle cx="833.7" cy="834.5" r="2.8" fill="#000" stroke="none"/>
<path d="M790.9 853.5L790.9 862.6A13.7 8.1 0 0 0 804.6 854.5" stroke-width="5" stroke-linejoin="round"/>
<path d="M903.2 663.4L903.2 652.9A14.1 9.5 0 0 0 889.1 662.4" stroke-width="5" stroke-linejoin="round"/>
<path d="M908.6 736.7L908.6 727.4A14.1 8.3 0 0 0 894.5 735.7" stroke-width="5" stroke-linejoin="round"/>
<path d="M890 740.2L890 779.7" stroke-width="7.2"/>
<path d="M876.1 744.7A10.3 10.3 0 0 0 886.4 755" stroke-width="5"/>
<path d="M905.7 774.7A12.1 8.2 0 0 0 893.6 766.5" stroke-width="5"/>
<path d="M865.8 744.2L865.8 755" stroke-width="1.4"/>
<circle cx="865.8" cy="755" r="2.8" fill="#000" stroke="none"/>
<path d="M890 808.4L890 850" stroke-width="7.2"/>
<path d="M905.7 812.2A12.1 9.1 0 0 1 893.6 821.3" stroke-width="5"/>
<path d="M876.1 845.5A10.3 10.3 0 0 1 886.4 835.2" stroke-width="5"/>
<path d="M865.8 834.5L865.8 846" stroke-width="1.4"/>
<circle cx="865.8" cy="834.5" r="2.8" fill="#000" stroke="none"/>
<path d="M908.6 853.5L908.6 862.6A13.7 8.1 0 0 1 894.9 854.5" stroke-width="5" stroke-linejoin="round"/>
<path d="M938.8 663.4L938.8 652.9A14.1 9.5 0 0 1 952.9 662.4" stroke-width="5" stroke-linejoin="round"/>
<path d="M933.4 736.7L933.4 727.4A14.1 8.3 0 0 1 947.5 735.7" stroke-width="5" stroke-linejoin="round"/>
<path d="M952 740.2L952 779.7" stroke-width="7.2"/>
<path d="M965.9 744.7A10.3 10.3 0 0 1 955.6 755" stroke-width="5"/>
<path d="M936.3 774.7A12.1 8.2 0 0 1 948.4 766.5" stroke-width="5"/>
<path d="M976.2 744.2L976.2 755" stroke-width="1.4"/>
<circle cx="976.2" cy="755" r="2.8" fill="#000" stroke="none"/>
<path d="M952 808.4L952 850" stroke-width="7.2"/>
<path d="M936.3 812.2A12.1 9.1 0 0 0 948.4 821.3" stroke-width="5"/>
<path d="M965.9 845.5A10.3 10.3 0 0 0 955.6 835.2" stroke-width="5"/>
<path d="M976.2 834.5L976.2 846" stroke-width="1.4"/>
<circle cx="976.2" cy="834.5" r="2.8" fill="#000" stroke="none"/>
<path d="M933.4 853.5L933.4 862.6A13.7 8.1 0 0 0 947.1 854.5" stroke-width="5" stroke-linejoin="round"/>
<path d="M1045.7 663.4L1045.7 652.9A14.1 9.5 0 0 0 1031.6 662.4" stroke-width="5" stroke-linejoin="round"/>
<path d="M1051.1 736.7L1051.1 727.4A14.1 8.3 0 0 0 1037 735.7" stroke-width="5" stroke-linejoin="round"/>
<path d="M1032.5 740.2L1032.5 779.7" stroke-width="7.2"/>
<path d="M1018.6 744.7A10.3 10.3 0 0 0 1028.9 755" stroke-width="5"/>
<path d="M1048.2 774.7A12.1 8.2 0 0 0 1036.1 766.5" stroke-width="5"/>
<path d="M1008.3 744.2L1008.3 755" stroke-width="1.4"/>
<circle cx="1008.3" cy="755" r="2.8" fill="#000" stroke="none"/>
<path d="M1032.5 808.4L1032.5 850" stroke-width="7.2"/>
<path d="M1048.2 812.2A12.1 9.1 0 0 1 1036.1 821.3" stroke-width="5"/>
<path d="M1018.6 845.5A10.3 10.3 0 0 1 1028.9 835.2" stroke-width="5"/>
<path d="M1008.3 834.5L1008.3 846" stroke-width="1.4"/>
<circle cx="1008.3" cy="834.5" r="2.8" fill="#000" stroke="none"/>
<path d="M1051.1 853.5L1051.1 862.6A13.7 8.1 0 0 1 1037.4 854.5" stroke-width="5" stroke-linejoin="round"/>
<path d="M1081.3 663.4L1081.3 652.9A14.1 9.5 0 0 1 1095.4 662.4" stroke-width="5" stroke-linejoin="round"/>
<path d="M1075.9 736.7L1075.9 727.4A14.1 8.3 0 0 1 1090 735.7" stroke-width="5" stroke-linejoin="round"/>
<path d="M1094.5 740.2L1094.5 779.7" stroke-width="7.2"/>
<path d="M1108.4 744.7A10.3 10.3 0 0 1 1098.1 755" stroke-width="5"/>
<path d="M1078.8 774.7A12.1 8.2 0 0 1 1090.9 766.5" stroke-width="5"/>
<path d="M1118.7 744.2L1118.7 755" stroke-width="1.4"/>
<circle cx="1118.7" cy="755" r="2.8" fill="#000" stroke="none"/>
<path d="M1188.2 663.4L1188.2 652.9A14.1 9.5 0 0 0 1174.1 662.4" stroke-width="5" stroke-linejoin="round"/>
<path d="M1193.6 736.7L1193.6 727.4A14.1 8.3 0 0 0 1179.5 735.7" stroke-width="5" stroke-linejoin="round"/>
<path d="M1175 740.2L1175 779.7" stroke-width="7.2"/>
<path d="M1161.1 744.7A10.3 10.3 0 0 0 1171.4 755" stroke-width="5"/>
<path d="M1190.7 774.7A12.1 8.2 0 0 0 1178.6 766.5" stroke-width="5"/>
<path d="M1150.8 744.2L1150.8 755" stroke-width="1.4"/>
<circle cx="1150.8" cy="755" r="2.8" fill="#000" stroke="none"/>
<path d="M1223.8 663.4L1223.8 652.9A14.1 9.5 0 0 1 1237.9 662.4" stroke-width="5" stroke-linejoin="round"/>
<path d="M1218.4 736.7L1218.4 727.4A14.1 8.3 0 0 1 1232.5 735.7" stroke-width="5" stroke-linejoin="round"/>
<path d="M1237 740.2L1237 779.7" stroke-width="7.2"/>
<path d="M1250.9 744.7A10.3 10.3 0 0 1 1240.6 755" stroke-width="5"/>
<path d="M1221.3 774.7A12.1 8.2 0 0 1 1233.4 766.5" stroke-width="5"/>
<path d="M1261.2 744.2L1261.2 755" stroke-width="1.4"/>
<circle cx="1261.2" cy="755" r="2.8" fill="#000" stroke="none"/>
<path d="M1330.7 663.4L1330.7 652.9A14.1 9.5 0 0 0 1316.6 662.4" stroke-width="5" stroke-linejoin="round"/>
<path d="M1336.1 736.7L1336.1 727.4A14.1 8.3 0 0 0 1322 735.7" stroke-width="5" stroke-linejoin="round"/>
<path d="M1317.5 740.2L1317.5 779.7" stroke-width="7.2"/>
<path d="M1303.6 744.7A10.3 10.3 0 0 0 1313.9 755" stroke-width="5"/>
<path d="M1333.2 774.7A12.1 8.2 0 0 0 1321.1 766.5" stroke-width="5"/>
<path d="M1293.3 744.2L1293.3 755" stroke-width="1.4"/>
<circle cx="1293.3" cy="755" r="2.8" fill="#000" stroke="none"/>
<path d="M796.3 925.9L796.3 937.2A14.1 10.3 0 0 0 810.4 926.9" stroke-width="5" stroke-linejoin="round"/>
<path d="M903.2 925.9L903.2 937.2A14.1 10.3 0 0 1 889.1 926.9" stroke-width="5" stroke-linejoin="round"/>
<path d="M938.8 925.9L938.8 937.2A14.1 10.3 0 0 0 952.9 926.9" stroke-width="5" stroke-linejoin="round"/>
<path d="M1045.7 925.9L1045.7 937.2A14.1 10.3 0 0 1 1031.6 926.9" stroke-width="5" stroke-linejoin="round"/>
<path d="M1117 925.9L1117 937.2A14.1 10.3 0 0 1 1102.9 926.9" stroke-width="5" stroke-linejoin="round"/>
<path d="M1152.5 925.9L1152.5 937.2A14.1 10.3 0 0 0 1166.6 926.9" stroke-width="5" stroke-linejoin="round"/>
<path d="M1259.5 925.9L1259.5 937.2A14.1 10.3 0 0 1 1245.4 926.9" stroke-width="5" stroke-linejoin="round"/>
<path d="M1295 925.9L1295 937.2A14.1 10.3 0 0 0 1309.1 926.9" stroke-width="5" stroke-linejoin="round"/>
<rect x="1067.5" y="834" width="31.1" height="47.3" fill="#000" stroke="none"/>
<rect x="1100.2" y="834" width="31" height="47.3" fill="#000" stroke="none"/>
<path d="M1134.8 808.4L1134.8 881" stroke-width="3.2"/>
<circle cx="1135.8" cy="808.4" r="2.8" fill="#000" stroke="none"/>
<circle cx="1135.8" cy="881" r="3" fill="#000" stroke="none"/>
<path d="M1134.8 839.2L1175 839.2" stroke-width="8"/>
<path d="M1152.2 843.2A10.3 7.1 0 0 1 1141.9 850.3" stroke-width="5"/>
<path d="M1159 843.2A10.3 7.1 0 0 0 1169.3 850.3" stroke-width="5"/>
<path d="M1141.9 843L1141.9 852.5" stroke-width="2.4"/>
<path d="M1169.3 843L1169.3 852.5" stroke-width="2.4"/>
<path d="M1174 809.3L1285 809.3" stroke-width="5.2"/>
<path d="M1176.2 807L1176.2 882" stroke-width="4.6"/>
<path d="M1172 878.7L1345 878.7" stroke-width="9.2"/>
<path d="M1177 845.5L1233 845.5" stroke-width="4.2"/>
<path d="M1237 807L1237 880" stroke-width="9.2"/>
<circle cx="1174.5" cy="809.5" r="3" fill="#000" stroke="none"/>
<circle cx="1174.5" cy="879" r="3.4" fill="#000" stroke="none"/>
<rect x="1285" y="807.8" width="64" height="39" fill="#000" stroke="none"/>
<path d="M1250.5 796.9A10.3 9.7 0 0 1 1260.8 806.6" stroke-width="5"/>
<path d="M1276.5 796.9A10.3 9.7 0 0 0 1266.2 806.6" stroke-width="5"/>
<path d="M1250.5 794.6L1250.5 806.6" stroke-width="2.4"/>
<path d="M1276.5 794.6L1276.5 806.6" stroke-width="2.4"/>
<path d="M1269 826.7L1285 826.7" stroke-width="1.2"/>
<path d="M1269 843L1285 843" stroke-width="1"/>
<path d="M1313 883L1313 921" stroke-width="8"/>
<path d="M1298.7 883.3A10.3 10.7 0 0 0 1309 894" stroke-width="5"/>
<path d="M1327.3 883.3A10.3 10.7 0 0 1 1317 894" stroke-width="5"/>
<circle cx="1206" cy="913.8" r="2.6" fill="#000" stroke="none"/>
<path d="M699.5 816.3L775 816.3" stroke-width="6"/>
<path d="M1348.5 816.3L1429 816.3" stroke-width="6"/>
<path d="M1348.5 781.4L1404 781.4" stroke-width="3" stroke-linecap="round"/>
<path d="M774.1 613.6L798 613.6" stroke-width="5" stroke-linecap="round"/></g>
<g><path d="M776 1622L776 1974.6L1352.5 1974.6L1352.5 1622" stroke-width="9.6" stroke-linejoin="round" stroke-linecap="butt"/>
<path d="M776 1683.3L1352.5 1683.3" stroke-width="8"/>
<path d="M781 1691.3L781 1954.6" stroke-width="6.4" stroke-linecap="round" stroke-dasharray="0.01 7.6"/>
<path d="M1347 1691.3L1347 1809" stroke-width="6.4" stroke-linecap="round" stroke-dasharray="0.01 7.6"/>
<path d="M1351 1800L1351 1974.6" stroke-width="12.4"/>
<path d="M778.5 1974.6L778.5 1998" stroke-width="2.2"/>
<path d="M778.5 1997L778.5 2013" stroke-width="5.4" stroke-linecap="round"/>
<path d="M849.8 1654V1679" stroke-width="2" stroke-dasharray="7 1.5" stroke-linecap="round"/>
<path d="M849.8 1974.6L849.8 1998" stroke-width="2.2"/>
<path d="M849.8 1997L849.8 2013" stroke-width="5.4" stroke-linecap="round"/>
<path d="M921 1654V1679" stroke-width="2" stroke-dasharray="7 1.5" stroke-linecap="round"/>
<path d="M921 1974.6L921 1998" stroke-width="2.2"/>
<path d="M921 1997L921 2013" stroke-width="5.4" stroke-linecap="round"/>
<path d="M992.2 1654V1679" stroke-width="2" stroke-dasharray="7 1.5" stroke-linecap="round"/>
<path d="M992.2 1974.6L992.2 1998" stroke-width="2.2"/>
<path d="M992.2 1997L992.2 2013" stroke-width="5.4" stroke-linecap="round"/>
<path d="M1063.5 1654V1679" stroke-width="2" stroke-dasharray="7 1.5" stroke-linecap="round"/>
<path d="M1063.5 1974.6L1063.5 1998" stroke-width="2.2"/>
<path d="M1063.5 1997L1063.5 2013" stroke-width="5.4" stroke-linecap="round"/>
<path d="M1134.8 1654V1679" stroke-width="2" stroke-dasharray="7 1.5" stroke-linecap="round"/>
<path d="M1134.8 1974.6L1134.8 1998" stroke-width="2.2"/>
<path d="M1134.8 1997L1134.8 2013" stroke-width="5.4" stroke-linecap="round"/>
<path d="M1206 1654V1679" stroke-width="2" stroke-dasharray="7 1.5" stroke-linecap="round"/>
<path d="M1206 1974.6L1206 1998" stroke-width="2.2"/>
<path d="M1206 1997L1206 2013" stroke-width="5.4" stroke-linecap="round"/>
<path d="M1277.2 1654V1679" stroke-width="2" stroke-dasharray="7 1.5" stroke-linecap="round"/>
<path d="M1277.2 1974.6L1277.2 1998" stroke-width="2.2"/>
<path d="M1277.2 1997L1277.2 2013" stroke-width="5.4" stroke-linecap="round"/>
<path d="M1348.5 1974.6L1348.5 1998" stroke-width="2.2"/>
<path d="M1348.5 1997L1348.5 2013" stroke-width="5.4" stroke-linecap="round"/>
<path d="M778.5 2008.5L807.6 2008.5" stroke-width="5" stroke-linecap="round"/>
<path d="M820.6 2008.5L849.8 2008.5" stroke-width="5" stroke-linecap="round"/>
<text x="814.1" y="2009.8" font-size="3.4" text-anchor="middle">4.2000</text>
<path d="M849.8 2008.5L878.9 2008.5" stroke-width="5" stroke-linecap="round"/>
<path d="M891.9 2008.5L921 2008.5" stroke-width="5" stroke-linecap="round"/>
<text x="885.4" y="2009.8" font-size="3.4" text-anchor="middle">4.2000</text>
<path d="M921 2008.5L950.1 2008.5" stroke-width="5" stroke-linecap="round"/>
<path d="M963.1 2008.5L992.2 2008.5" stroke-width="5" stroke-linecap="round"/>
<text x="956.6" y="2009.8" font-size="3.4" text-anchor="middle">4.2000</text>
<path d="M992.2 2008.5L1021.4 2008.5" stroke-width="5" stroke-linecap="round"/>
<path d="M1034.4 2008.5L1063.5 2008.5" stroke-width="5" stroke-linecap="round"/>
<text x="1027.9" y="2009.8" font-size="3.4" text-anchor="middle">4.2000</text>
<path d="M1063.5 2008.5L1092.6 2008.5" stroke-width="5" stroke-linecap="round"/>
<path d="M1105.6 2008.5L1134.8 2008.5" stroke-width="5" stroke-linecap="round"/>
<text x="1099.1" y="2009.8" font-size="3.4" text-anchor="middle">4.2000</text>
<path d="M1134.8 2008.5L1163.9 2008.5" stroke-width="5" stroke-linecap="round"/>
<path d="M1176.9 2008.5L1206 2008.5" stroke-width="5" stroke-linecap="round"/>
<text x="1170.4" y="2009.8" font-size="3.4" text-anchor="middle">4.2000</text>
<path d="M1206 2008.5L1235.1 2008.5" stroke-width="5" stroke-linecap="round"/>
<path d="M1248.1 2008.5L1277.2 2008.5" stroke-width="5" stroke-linecap="round"/>
<text x="1241.6" y="2009.8" font-size="3.4" text-anchor="middle">4.2000</text>
<path d="M1277.2 2008.5L1306.4 2008.5" stroke-width="5" stroke-linecap="round"/>
<path d="M1319.4 2008.5L1348.5 2008.5" stroke-width="5" stroke-linecap="round"/>
<text x="1312.9" y="2009.8" font-size="3.4" text-anchor="middle">4.2000</text>
<path d="M849.8 1683.3L849.8 1815" stroke-width="10.4"/>
<path d="M849.8 1815L849.8 1841.6" stroke-width="2"/>
<path d="M849.8 1841.6L849.8 1974.6" stroke-width="10.4"/>
<path d="M921 1683.3L921 1815" stroke-width="10.4"/>
<path d="M921 1815L921 1841.6" stroke-width="2"/>
<path d="M921 1841.6L921 1974.6" stroke-width="10.4"/>
<path d="M992.2 1683.3L992.2 1815" stroke-width="10.4"/>
<path d="M992.2 1815L992.2 1841.6" stroke-width="2"/>
<path d="M992.2 1841.6L992.2 1974.6" stroke-width="10.4"/>
<path d="M1063.5 1683.3L1063.5 1815" stroke-width="10.4"/>
<path d="M1063.5 1815L1063.5 1841.6" stroke-width="2"/>
<path d="M1134.8 1683.3L1134.8 1815" stroke-width="10.4"/>
<path d="M1134.8 1815V1974.6" stroke-width="2.4" stroke-dasharray="9 1.2"/>
<path d="M1206 1683.3L1206 1815" stroke-width="10.4"/>
<path d="M1206 1815V1974.6" stroke-width="2.4" stroke-dasharray="9 1.2"/>
<path d="M1277.2 1683.3L1277.2 1815" stroke-width="10.4"/>
<path d="M1277.2 1815V1974.6" stroke-width="2.4" stroke-dasharray="9 1.2"/>
<path d="M1062.5 1838.6L1062.5 1974.6" stroke-width="5.6"/>
<path d="M1059.8 1840.6L1059.8 1973.6" stroke-width="6.4" stroke-linecap="round" stroke-dasharray="0.01 7.6"/>
<path d="M1065.2 1840.6L1065.2 1973.6" stroke-width="6.4" stroke-linecap="round" stroke-dasharray="0.01 7.6"/>
<path d="M1277.2 1921.4L1277.2 1974.6" stroke-width="5"/>
<path d="M1274.5 1923.4L1274.5 1973.6" stroke-width="6.4" stroke-linecap="round" stroke-dasharray="0.01 7.6"/>
<path d="M1280 1923.4L1280 1973.6" stroke-width="6.4" stroke-linecap="round" stroke-dasharray="0.01 7.6"/>
<circle cx="1206" cy="1948" r="3.4" fill="#000" stroke="none"/>
<path d="M776 1699.8L1352.5 1699.8" stroke-width="8.2"/>
<path d="M776 1773.6L1352.5 1773.6" stroke-width="10.2"/>
<path d="M776 1815L1352.5 1815" stroke-width="9"/>
<path d="M776 1841.6L1063.5 1841.6" stroke-width="9.2"/>
<path d="M776 1883.6L1063.5 1883.6" stroke-width="11"/>
<path d="M686.5 1921.4L1458 1921.4" stroke-width="4.4" stroke-linecap="round"/>
<path d="M776 1958.6L1352.5 1958.6" stroke-width="8"/>
<path d="M1352.5 1962L1395 1962" stroke-width="2" stroke-linecap="round"/>
<path d="M796.3 1697L796.3 1688.8A14.1 7.2 0 0 1 810.4 1696" stroke-width="4.3" stroke-linejoin="round"/>
<path d="M790.9 1770.1L790.9 1760.8A14.1 8.3 0 0 1 805 1769.1" stroke-width="4.3" stroke-linejoin="round"/>
<path d="M809.5 1773.6L809.5 1815" stroke-width="7.4"/>
<path d="M823.4 1778.1A10.3 10.3 0 0 1 813.1 1788.4" stroke-width="4.3"/>
<path d="M793.8 1810.5A12.1 8.2 0 0 1 805.9 1802.3" stroke-width="4.3"/>
<path d="M833.7 1777.6L833.7 1789.5" stroke-width="5.2" stroke-linecap="round"/>
<path d="M809.5 1841.6L809.5 1883.6" stroke-width="7.4"/>
<path d="M793.8 1846A12.1 9.1 0 0 0 805.9 1855.1" stroke-width="4.3"/>
<path d="M823.4 1878.4A10.3 10.3 0 0 0 813.1 1868.1" stroke-width="4.3"/>
<path d="M833.7 1868.5L833.7 1879.6" stroke-width="5.2" stroke-linecap="round"/>
<path d="M790.9 1888L790.9 1897.1A13.7 8.1 0 0 0 804.6 1889" stroke-width="4.3" stroke-linejoin="round"/>
<path d="M903.2 1697L903.2 1688.8A14.1 7.2 0 0 0 889.1 1696" stroke-width="4.3" stroke-linejoin="round"/>
<path d="M908.6 1770.1L908.6 1760.8A14.1 8.3 0 0 0 894.5 1769.1" stroke-width="4.3" stroke-linejoin="round"/>
<path d="M890 1773.6L890 1815" stroke-width="7.4"/>
<path d="M876.1 1778.1A10.3 10.3 0 0 0 886.4 1788.4" stroke-width="4.3"/>
<path d="M905.7 1810.5A12.1 8.2 0 0 0 893.6 1802.3" stroke-width="4.3"/>
<path d="M865.8 1777.6L865.8 1789.5" stroke-width="5.2" stroke-linecap="round"/>
<path d="M890 1841.6L890 1883.6" stroke-width="7.4"/>
<path d="M905.7 1846A12.1 9.1 0 0 1 893.6 1855.1" stroke-width="4.3"/>
<path d="M876.1 1878.4A10.3 10.3 0 0 1 886.4 1868.1" stroke-width="4.3"/>
<path d="M865.8 1868.5L865.8 1879.6" stroke-width="5.2" stroke-linecap="round"/>
<path d="M908.6 1888L908.6 1897.1A13.7 8.1 0 0 1 894.9 1889" stroke-width="4.3" stroke-linejoin="round"/>
<path d="M938.8 1697L938.8 1688.8A14.1 7.2 0 0 1 952.9 1696" stroke-width="4.3" stroke-linejoin="round"/>
<path d="M933.4 1770.1L933.4 1760.8A14.1 8.3 0 0 1 947.5 1769.1" stroke-width="4.3" stroke-linejoin="round"/>
<path d="M952 1773.6L952 1815" stroke-width="7.4"/>
<path d="M965.9 1778.1A10.3 10.3 0 0 1 955.6 1788.4" stroke-width="4.3"/>
<path d="M936.3 1810.5A12.1 8.2 0 0 1 948.4 1802.3" stroke-width="4.3"/>
<path d="M976.2 1777.6L976.2 1789.5" stroke-width="5.2" stroke-linecap="round"/>
<path d="M952 1841.6L952 1883.6" stroke-width="7.4"/>
<path d="M936.3 1846A12.1 9.1 0 0 0 948.4 1855.1" stroke-width="4.3"/>
<path d="M965.9 1878.4A10.3 10.3 0 0 0 955.6 1868.1" stroke-width="4.3"/>
<path d="M976.2 1868.5L976.2 1879.6" stroke-width="5.2" stroke-linecap="round"/>
<path d="M933.4 1888L933.4 1897.1A13.7 8.1 0 0 0 947.1 1889" stroke-width="4.3" stroke-linejoin="round"/>
<path d="M1045.7 1697L1045.7 1688.8A14.1 7.2 0 0 0 1031.6 1696" stroke-width="4.3" stroke-linejoin="round"/>
<path d="M1051.1 1770.1L1051.1 1760.8A14.1 8.3 0 0 0 1037 1769.1" stroke-width="4.3" stroke-linejoin="round"/>
<path d="M1032.5 1773.6L1032.5 1815" stroke-width="7.4"/>
<path d="M1018.6 1778.1A10.3 10.3 0 0 0 1028.9 1788.4" stroke-width="4.3"/>
<path d="M1048.2 1810.5A12.1 8.2 0 0 0 1036.1 1802.3" stroke-width="4.3"/>
<path d="M1008.3 1777.6L1008.3 1789.5" stroke-width="5.2" stroke-linecap="round"/>
<path d="M1032.5 1841.6L1032.5 1883.6" stroke-width="7.4"/>
<path d="M1048.2 1846A12.1 9.1 0 0 1 1036.1 1855.1" stroke-width="4.3"/>
<path d="M1018.6 1878.4A10.3 10.3 0 0 1 1028.9 1868.1" stroke-width="4.3"/>
<path d="M1008.3 1868.5L1008.3 1879.6" stroke-width="5.2" stroke-linecap="round"/>
<path d="M1051.1 1888L1051.1 1897.1A13.7 8.1 0 0 1 1037.4 1889" stroke-width="4.3" stroke-linejoin="round"/>
<path d="M1081.3 1697L1081.3 1688.8A14.1 7.2 0 0 1 1095.4 1696" stroke-width="4.3" stroke-linejoin="round"/>
<path d="M1075.9 1770.1L1075.9 1760.8A14.1 8.3 0 0 1 1090 1769.1" stroke-width="4.3" stroke-linejoin="round"/>
<path d="M1094.5 1773.6L1094.5 1815" stroke-width="7.4"/>
<path d="M1108.4 1778.1A10.3 10.3 0 0 1 1098.1 1788.4" stroke-width="4.3"/>
<path d="M1078.8 1810.5A12.1 8.2 0 0 1 1090.9 1802.3" stroke-width="4.3"/>
<path d="M1118.7 1777.6L1118.7 1789.5" stroke-width="5.2" stroke-linecap="round"/>
<path d="M1188.2 1697L1188.2 1688.8A14.1 7.2 0 0 0 1174.1 1696" stroke-width="4.3" stroke-linejoin="round"/>
<path d="M1193.6 1770.1L1193.6 1760.8A14.1 8.3 0 0 0 1179.5 1769.1" stroke-width="4.3" stroke-linejoin="round"/>
<path d="M1175 1773.6L1175 1815" stroke-width="7.4"/>
<path d="M1161.1 1778.1A10.3 10.3 0 0 0 1171.4 1788.4" stroke-width="4.3"/>
<path d="M1190.7 1810.5A12.1 8.2 0 0 0 1178.6 1802.3" stroke-width="4.3"/>
<path d="M1150.8 1777.6L1150.8 1789.5" stroke-width="5.2" stroke-linecap="round"/>
<path d="M1223.8 1697L1223.8 1688.8A14.1 7.2 0 0 1 1237.9 1696" stroke-width="4.3" stroke-linejoin="round"/>
<path d="M1218.4 1770.1L1218.4 1760.8A14.1 8.3 0 0 1 1232.5 1769.1" stroke-width="4.3" stroke-linejoin="round"/>
<path d="M1237 1773.6L1237 1815" stroke-width="7.4"/>
<path d="M1250.9 1778.1A10.3 10.3 0 0 1 1240.6 1788.4" stroke-width="4.3"/>
<path d="M1221.3 1810.5A12.1 8.2 0 0 1 1233.4 1802.3" stroke-width="4.3"/>
<path d="M1261.2 1777.6L1261.2 1789.5" stroke-width="5.2" stroke-linecap="round"/>
<path d="M1330.7 1697L1330.7 1688.8A14.1 7.2 0 0 0 1316.6 1696" stroke-width="4.3" stroke-linejoin="round"/>
<path d="M1336.1 1770.1L1336.1 1760.8A14.1 8.3 0 0 0 1322 1769.1" stroke-width="4.3" stroke-linejoin="round"/>
<path d="M1317.5 1773.6L1317.5 1815" stroke-width="7.4"/>
<path d="M1303.6 1778.1A10.3 10.3 0 0 0 1313.9 1788.4" stroke-width="4.3"/>
<path d="M1333.2 1810.5A12.1 8.2 0 0 0 1321.1 1802.3" stroke-width="4.3"/>
<path d="M1293.3 1777.6L1293.3 1789.5" stroke-width="5.2" stroke-linecap="round"/>
<path d="M796.3 1961.4L796.3 1969.1A14.1 6.7 0 0 0 810.4 1962.4" stroke-width="4.3" stroke-linejoin="round"/>
<path d="M903.2 1961.4L903.2 1969.1A14.1 6.7 0 0 1 889.1 1962.4" stroke-width="4.3" stroke-linejoin="round"/>
<path d="M938.8 1961.4L938.8 1969.1A14.1 6.7 0 0 0 952.9 1962.4" stroke-width="4.3" stroke-linejoin="round"/>
<path d="M1045.7 1961.4L1045.7 1969.1A14.1 6.7 0 0 1 1031.6 1962.4" stroke-width="4.3" stroke-linejoin="round"/>
<path d="M1117 1961.4L1117 1969.1A14.1 6.7 0 0 1 1102.9 1962.4" stroke-width="4.3" stroke-linejoin="round"/>
<path d="M1152.5 1961.4L1152.5 1969.1A14.1 6.7 0 0 0 1166.6 1962.4" stroke-width="4.3" stroke-linejoin="round"/>
<path d="M1259.5 1961.4L1259.5 1969.1A14.1 6.7 0 0 1 1245.4 1962.4" stroke-width="4.3" stroke-linejoin="round"/>
<path d="M1295 1961.4L1295 1969.1A14.1 6.7 0 0 0 1309.1 1962.4" stroke-width="4.3" stroke-linejoin="round"/>
<rect x="1061.5" y="1869" width="76.5" height="48.4" fill="#000" stroke="none"/>
<rect x="1098.4" y="1874" width="1.4" height="33" fill="#fff" stroke="none"/>
<path d="M1064.5 1868L1064.5 1842L1136 1842L1136 1868" stroke-width="5" stroke-linejoin="miter" stroke-linecap="butt"/>
<path d="M1062 1842L1062 1916" stroke-width="6.4" stroke-linecap="round" stroke-dasharray="0.01 7.6"/>
<path d="M1138.6 1842L1138.6 1916" stroke-width="6.4" stroke-linecap="round" stroke-dasharray="0.01 7.6"/>
<path d="M1066 1839.6L1136 1839.6" stroke-width="6.4" stroke-linecap="round" stroke-dasharray="0.01 7.6"/>
<path d="M1082 1869.5L1126 1869.5" stroke-width="4" stroke-linecap="round" stroke-dasharray="0.01 7.6"/>
<path d="M1139 1871.6L1170 1871.6" stroke-width="5"/>
<path d="M1153.3 1874A10.3 8.7 0 0 1 1143 1882.7" stroke-width="5"/>
<path d="M1155.7 1874A10.3 8.7 0 0 0 1166 1882.7" stroke-width="5"/>
<path d="M1143 1874L1143 1885" stroke-width="2.6"/>
<path d="M1166 1874L1166 1885" stroke-width="2.6"/>
<path d="M1168.4 1836.4H1242.8V1918.4H1168.4Z M1183 1851H1204.8V1871.2H1183Z M1207.4 1851H1229V1871.2H1207.4Z M1183 1886.4H1204.8V1904.6H1183Z M1207.4 1886.4H1229V1904.6H1207.4Z" fill="#000" fill-rule="evenodd" stroke="none"/>
<path d="M1242.8 1845L1242.8 1910" stroke-width="3"/>
<path d="M1242 1909.6L1352.5 1909.6" stroke-width="3"/>
<path d="M1242 1846L1280 1846" stroke-width="3"/>
<rect x="1288" y="1845" width="48" height="29.4" fill="#000" stroke="none"/>
<rect x="1338.5" y="1858" width="3" height="13" fill="#fff" stroke="none"/>
<path d="M1279 1840.4L1346 1840.4" stroke-width="4.6"/>
<path d="M1281 1840.4L1345 1840.4" stroke-width="6.4" stroke-linecap="round" stroke-dasharray="0.01 7.6"/>
<path d="M1274 1878.6L1340 1878.6" stroke-width="5"/>
<path d="M1276 1878.6L1339 1878.6" stroke-width="6.4" stroke-linecap="round" stroke-dasharray="0.01 7.6"/>
<circle cx="1275" cy="1878.6" r="4" fill="#000" stroke="none"/>
<path d="M1250.5 1829.8A10.3 8.2 0 0 1 1260.8 1838" stroke-width="5"/>
<path d="M1277 1829.8A10.3 8.2 0 0 0 1266.7 1838" stroke-width="5"/>
<path d="M1250.5 1827.5L1250.5 1838" stroke-width="2.6"/>
<path d="M1277 1827.5L1277 1838" stroke-width="2.6"/>
<path d="M702.8 1575.6L727 1575.6" stroke-width="5" stroke-linecap="round"/>
<path d="M774.1 1647.9L798 1647.9" stroke-width="5" stroke-linecap="round"/>
<path d="M1313.2 1921.4L1313.2 1958.6" stroke-width="7.6"/>
<path d="M1299.1 1923.2A10.3 7.7 0 0 0 1309.4 1930.9" stroke-width="5"/>
<path d="M1327.3 1923.2A10.3 7.7 0 0 1 1317 1930.9" stroke-width="5"/></g>
<g><path d="M275 1169V1194" stroke-width="2" stroke-dasharray="7 1.5" stroke-linecap="round"/>
<path d="M346.3 1169V1194" stroke-width="2" stroke-dasharray="7 1.5" stroke-linecap="round"/>
<path d="M275 1326L275 1198L347.1 1198L347.1 1269.4" stroke-width="9.6" stroke-linejoin="miter" stroke-linecap="butt"/>
<path d="M279.6 1206L279.6 1214" stroke-width="6.4" stroke-linecap="round" stroke-dasharray="0.01 7.6"/>
<path d="M279.8 1286L279.8 1322" stroke-width="6.4" stroke-linecap="round" stroke-dasharray="0.01 7.6"/>
<path d="M275 1215L346.3 1215" stroke-width="7.4"/>
<path d="M340.4 1212.4L340.4 1202.7A10.2 8.7 0 0 0 330.2 1211.4" stroke-width="5" stroke-linejoin="round"/>
<rect x="279" y="1218" width="45.7" height="65.5" fill="#000" stroke="none"/>
<rect x="281.8" y="1224.4" width="15.6" height="11.6" fill="#fff" stroke="none"/>
<rect x="300.2" y="1224.4" width="8.6" height="11.6" fill="#fff" stroke="none"/>
<path d="M325 1222L325 1282" stroke-width="6.4" stroke-linecap="round" stroke-dasharray="0.01 7.6"/>
<path d="M322 1274L330 1274" stroke-width="1.6"/>
<path d="M343.1 1222L343.1 1269.4" stroke-width="6.4" stroke-linecap="round" stroke-dasharray="0.01 7.6"/>
<path d="M346.3 1267.4L346.3 1386" stroke-width="5.6"/>
<path d="M343.6 1269.4L343.6 1385" stroke-width="6.4" stroke-linecap="round" stroke-dasharray="0.01 7.6"/>
<path d="M349 1269.4L349 1385" stroke-width="6.4" stroke-linecap="round" stroke-dasharray="0.01 7.6"/>
<path d="M275.5 1316.5L293.5 1335L346.3 1335" stroke-width="10.5" stroke-linejoin="miter" stroke-linecap="butt"/>
<path d="M307.5 1331L307.5 1320.8A10.7 9.2 0 0 0 296.8 1330" stroke-width="5" stroke-linejoin="round"/>
<path d="M235.4 1336.7L235.4 1315L255.3 1295.2L275 1295.2" stroke-width="8" stroke-linejoin="miter" stroke-linecap="butt"/>
<path d="M256 1332L274 1314" stroke-width="5.4" stroke-linecap="round"/>
<path d="M274 1317.8Q262 1304.3 260.5 1308.3Q255 1318.3 262 1329.3" stroke-width="3" stroke-linejoin="round"/>
<path d="M158 1217.7L772 1831.7" stroke-width="1.8"/>
<path d="M235.4 1334.7L138.5 1334.7L138.5 1406L209.8 1406L209.8 1477.3L281.1 1477.3L281.1 1548.6L352.4 1548.6L352.4 1619.9L423.7 1619.9L423.7 1691.2L495 1691.2L495 1762.5L566.3 1762.5L566.3 1833.8" stroke-width="8.6" stroke-linejoin="miter" stroke-linecap="butt"/>
<path d="M108.5 1334.7H134.5" stroke-width="2" stroke-dasharray="9 1"/>
<path d="M142.5 1334.7L256 1334.7" stroke-width="7.2"/>
<path d="M257 1334.7L275 1334.7" stroke-width="1.6"/>
<path d="M160.5 1338.7L255 1338.7" stroke-width="6.4" stroke-linecap="round" stroke-dasharray="0.01 7.6"/>
<path d="M157.2 1334.7L157.2 1406" stroke-width="7"/>
<path d="M141.5 1337.7L208 1403" stroke-width="5.4"/>
<path d="M230.5 1334.7L230.5 1477.3" stroke-width="7.6"/>
<path d="M154.8 1388.1L144.7 1388.1A9.1 14.2 0 0 1 153.8 1373.9" stroke-width="5" stroke-linejoin="round"/>
<path d="M228.1 1388.5L217 1388.5A10.1 14.2 0 0 1 227.1 1374.3" stroke-width="5" stroke-linejoin="round"/>
<path d="M230.5 1371.7L275 1371.7" stroke-width="7"/>
<path d="M275.6 1352.7L275.6 1406" stroke-width="10.4"/>
<path d="M234.1 1358A11.1 10.7 0 0 1 245.2 1368.7" stroke-width="5"/>
<path d="M261.1 1374.7A9.5 11.7 0 0 0 270.6 1386.4" stroke-width="5"/>
<path d="M258.6 1355.7L258.6 1368.7" stroke-width="6.6"/>
<path d="M260 1356.7L267 1349.2" stroke-width="4.6" stroke-linecap="round"/>
<path d="M255 1334L275 1354" stroke-width="1.6"/>
<path d="M108.5 1406H134.5" stroke-width="2" stroke-dasharray="9 1"/>
<path d="M142.5 1406L329.3 1406" stroke-width="7.2"/>
<path d="M328.3 1406L346.3 1406" stroke-width="1.6"/>
<path d="M144.5 1402.4L324.3 1402.4" stroke-width="6.4" stroke-linecap="round" stroke-dasharray="0.01 7.6"/>
<path d="M215.8 1409.6L326.3 1409.6" stroke-width="6.4" stroke-linecap="round" stroke-dasharray="0.01 7.6"/>
<path d="M301.8 1406L301.8 1548.6" stroke-width="7.6"/>
<path d="M228.1 1459.4L217 1459.4A10.1 13.5 0 0 1 227.1 1445.9" stroke-width="5" stroke-linejoin="round"/>
<path d="M299.4 1423.2L290.1 1423.2A8.3 12.9 0 0 0 298.4 1436.1" stroke-width="5" stroke-linejoin="round"/>
<path d="M325.3 1404.3L396.6 1475.6" stroke-width="7.6" stroke-linecap="round"/>
<path d="M396.6 1475.6L416.1 1495.1" stroke-width="1.8"/>
<path d="M348.5 1429.6L338.2 1439.9A14.6 14.6 0 0 1 338.2 1419.3" stroke-width="4.6" stroke-linejoin="round"/>
<path d="M332 1443L332 1477.3" stroke-width="6.6"/>
<path d="M334.3 1445L344.6 1445A9.3 12.3 0 0 1 335.3 1457.3" stroke-width="4.5" stroke-linejoin="round"/>
<path d="M337 1460.5L346 1460.5" stroke-width="4.4" stroke-linecap="round"/>
<path d="M373.1 1452.1L373.1 1477.3" stroke-width="7.6"/>
<path d="M179.8 1477.3H205.8" stroke-width="2" stroke-dasharray="9 1"/>
<path d="M213.8 1477.3L400.6 1477.3" stroke-width="7.2"/>
<path d="M399.6 1477.3L417.6 1477.3" stroke-width="1.6"/>
<path d="M215.8 1473.7L395.6 1473.7" stroke-width="6.4" stroke-linecap="round" stroke-dasharray="0.01 7.6"/>
<path d="M287.1 1480.9L397.6 1480.9" stroke-width="6.4" stroke-linecap="round" stroke-dasharray="0.01 7.6"/>
<path d="M373.1 1477.3L373.1 1619.9" stroke-width="7.6"/>
<path d="M299.4 1530.7L289.3 1530.7A9.1 14.2 0 0 1 298.4 1516.5" stroke-width="5" stroke-linejoin="round"/>
<path d="M370.7 1531.1L359.6 1531.1A10.1 14.2 0 0 1 369.7 1516.9" stroke-width="5" stroke-linejoin="round"/>
<path d="M373.1 1514.3L417.6 1514.3" stroke-width="7"/>
<path d="M418.2 1495.3L418.2 1548.6" stroke-width="10.4"/>
<path d="M376.7 1500.6A11.1 10.7 0 0 1 387.8 1511.3" stroke-width="5"/>
<path d="M403.7 1517.3A9.5 11.7 0 0 0 413.2 1529" stroke-width="5"/>
<path d="M401.2 1498.3L401.2 1511.3" stroke-width="6.6"/>
<path d="M402.6 1499.3L409.6 1491.8" stroke-width="4.6" stroke-linecap="round"/>
<path d="M251.1 1548.6H277.1" stroke-width="2" stroke-dasharray="9 1"/>
<path d="M285.1 1548.6L471.9 1548.6" stroke-width="7.2"/>
<path d="M470.9 1548.6L488.9 1548.6" stroke-width="1.6"/>
<path d="M287.1 1545L466.9 1545" stroke-width="6.4" stroke-linecap="round" stroke-dasharray="0.01 7.6"/>
<path d="M358.4 1552.2L468.9 1552.2" stroke-width="6.4" stroke-linecap="round" stroke-dasharray="0.01 7.6"/>
<path d="M444.4 1548.6L444.4 1691.2" stroke-width="7.6"/>
<path d="M370.7 1602L359.6 1602A10.1 13.5 0 0 1 369.7 1588.5" stroke-width="5" stroke-linejoin="round"/>
<path d="M442 1565.8L432.7 1565.8A8.3 12.9 0 0 0 441 1578.7" stroke-width="5" stroke-linejoin="round"/>
<path d="M467.9 1546.9L539.2 1618.2" stroke-width="7.6" stroke-linecap="round"/>
<path d="M539.2 1618.2L558.7 1637.7" stroke-width="1.8"/>
<path d="M491.1 1572.2L480.8 1582.5A14.6 14.6 0 0 1 480.8 1561.9" stroke-width="4.6" stroke-linejoin="round"/>
<path d="M474.6 1585.6L474.6 1619.9" stroke-width="6.6"/>
<path d="M476.9 1587.6L487.2 1587.6A9.3 12.3 0 0 1 477.9 1599.9" stroke-width="4.5" stroke-linejoin="round"/>
<path d="M479.6 1603.1L488.6 1603.1" stroke-width="4.4" stroke-linecap="round"/>
<path d="M515.7 1594.7L515.7 1619.9" stroke-width="7.6"/>
<path d="M322.4 1619.9H348.4" stroke-width="2" stroke-dasharray="9 1"/>
<path d="M356.4 1619.9L543.2 1619.9" stroke-width="7.2"/>
<path d="M542.2 1619.9L560.2 1619.9" stroke-width="1.6"/>
<path d="M358.4 1616.3L538.2 1616.3" stroke-width="6.4" stroke-linecap="round" stroke-dasharray="0.01 7.6"/>
<path d="M429.7 1623.5L540.2 1623.5" stroke-width="6.4" stroke-linecap="round" stroke-dasharray="0.01 7.6"/>
<path d="M515.7 1619.9L515.7 1762.5" stroke-width="7.6"/>
<path d="M442 1673.3L431.9 1673.3A9.1 14.2 0 0 1 441 1659.1" stroke-width="5" stroke-linejoin="round"/>
<path d="M513.3 1673.7L502.2 1673.7A10.1 14.2 0 0 1 512.3 1659.5" stroke-width="5" stroke-linejoin="round"/>
<path d="M515.7 1656.9L560.2 1656.9" stroke-width="7"/>
<path d="M560.8 1637.9L560.8 1691.2" stroke-width="10.4"/>
<path d="M519.3 1643.2A11.1 10.7 0 0 1 530.4 1653.9" stroke-width="5"/>
<path d="M546.3 1659.9A9.5 11.7 0 0 0 555.8 1671.6" stroke-width="5"/>
<path d="M543.8 1640.9L543.8 1653.9" stroke-width="6.6"/>
<path d="M545.2 1641.9L552.2 1634.4" stroke-width="4.6" stroke-linecap="round"/>
<path d="M393.7 1691.2H419.7" stroke-width="2" stroke-dasharray="9 1"/>
<path d="M427.7 1691.2L614.5 1691.2" stroke-width="7.2"/>
<path d="M613.5 1691.2L631.5 1691.2" stroke-width="1.6"/>
<path d="M429.7 1687.6L609.5 1687.6" stroke-width="6.4" stroke-linecap="round" stroke-dasharray="0.01 7.6"/>
<path d="M501 1694.8L611.5 1694.8" stroke-width="6.4" stroke-linecap="round" stroke-dasharray="0.01 7.6"/>
<path d="M587 1691.2L587 1833.8" stroke-width="7.6"/>
<path d="M513.3 1744.6L502.2 1744.6A10.1 13.5 0 0 1 512.3 1731.1" stroke-width="5" stroke-linejoin="round"/>
<path d="M584.6 1708.4L575.3 1708.4A8.3 12.9 0 0 0 583.6 1721.3" stroke-width="5" stroke-linejoin="round"/>
<path d="M610.5 1689.5L681.8 1760.8" stroke-width="7.6" stroke-linecap="round"/>
<path d="M681.8 1760.8L701.3 1780.3" stroke-width="1.8"/>
<path d="M633.7 1714.8L623.4 1725.1A14.6 14.6 0 0 1 623.4 1704.5" stroke-width="4.6" stroke-linejoin="round"/>
<path d="M617.2 1728.2L617.2 1762.5" stroke-width="6.6"/>
<path d="M619.5 1730.2L629.8 1730.2A9.3 12.3 0 0 1 620.5 1742.5" stroke-width="4.5" stroke-linejoin="round"/>
<path d="M622.2 1745.7L631.2 1745.7" stroke-width="4.4" stroke-linecap="round"/>
<path d="M658.3 1737.3L658.3 1762.5" stroke-width="7.6"/>
<path d="M465 1762.5H491" stroke-width="2" stroke-dasharray="9 1"/>
<path d="M499 1762.5L685.8 1762.5" stroke-width="9.6"/>
<path d="M684.8 1762.5L702.8 1762.5" stroke-width="1.6"/>
<path d="M658.3 1762.5L658.3 1833.8" stroke-width="7.6"/>
<path d="M584.6 1815.9L574.5 1815.9A9.1 14.2 0 0 1 583.6 1801.7" stroke-width="5" stroke-linejoin="round"/>
<path d="M655.9 1816.3L644.8 1816.3A10.1 14.2 0 0 1 654.9 1802.1" stroke-width="5" stroke-linejoin="round"/>
<path d="M658.3 1799.5L702.8 1799.5" stroke-width="7"/>
<path d="M703.4 1780.5L703.4 1856.8" stroke-width="10.4"/>
<path d="M661.9 1785.8A11.1 10.7 0 0 1 673 1796.5" stroke-width="5"/>
<path d="M688.9 1802.5A9.5 11.7 0 0 0 698.4 1814.2" stroke-width="5"/>
<path d="M686.4 1783.5L686.4 1796.5" stroke-width="6.6"/>
<path d="M687.8 1784.5L694.8 1777" stroke-width="4.6" stroke-linecap="round"/>
<path d="M536.3 1833.8H562.3" stroke-width="2" stroke-dasharray="9 1"/>
<path d="M566.3 1833.8L700 1833.8" stroke-width="6.4"/>
<path d="M568.3 1830.6L699 1830.6" stroke-width="6.4" stroke-linecap="round" stroke-dasharray="0.01 7.6"/>
<path d="M708 1831.8H772" stroke-width="1.6" stroke-dasharray="7 1.5"/>
<path d="M703.8 1821.8L703.8 1852.4L774 1852.4" stroke-width="10" stroke-linejoin="miter" stroke-linecap="butt"/>
<path d="M417.6 1243.4V1265.4" stroke-width="1.8" stroke-dasharray="7 1.5" stroke-linecap="round"/>
<path d="M346.3 1269.4L418.2 1269.4L418.2 1340.7" stroke-width="9" stroke-linejoin="miter" stroke-linecap="butt"/>
<path d="M413.6 1277.4L413.6 1340.7" stroke-width="6.4" stroke-linecap="round" stroke-dasharray="0.01 7.6"/>
<path d="M417.6 1338.7L417.6 1458.6" stroke-width="5.6"/>
<path d="M414.9 1340.7L414.9 1457.6" stroke-width="6.4" stroke-linecap="round" stroke-dasharray="0.01 7.6"/>
<path d="M420.3 1340.7L420.3 1457.6" stroke-width="6.4" stroke-linecap="round" stroke-dasharray="0.01 7.6"/>
<path d="M350.8 1275.4L350.8 1287.4" stroke-width="6.4" stroke-linecap="round" stroke-dasharray="0.01 7.6"/>
<path d="M346.3 1290.4L417.6 1290.4" stroke-width="7.4"/>
<path d="M400.6 1287.7L400.6 1276.4A14.7 10.3 0 0 0 385.9 1286.7" stroke-width="5" stroke-linejoin="round"/>
<path d="M346.3 1361.7L417.6 1361.7" stroke-width="7.6"/>
<path d="M364.3 1359L364.3 1348.9A13.7 9.1 0 0 1 378 1358" stroke-width="5" stroke-linejoin="round"/>
<path d="M345.3 1386.3L390 1431" stroke-width="8" stroke-linecap="round"/>
<path d="M386.3 1391.5L417.6 1391.5" stroke-width="7"/>
<path d="M378.5 1398.5A14.6 14.6 0 0 0 357.9 1398.5" stroke-width="4.6"/>
<path d="M369.2 1407.8L387.3 1391.5" stroke-width="6" stroke-linecap="round"/>
<path d="M387.8 1394L387.8 1404.1A12.5 9.1 0 0 0 400.3 1395" stroke-width="4.5" stroke-linejoin="round"/>
<path d="M401.8 1395L401.8 1407" stroke-width="4.4" stroke-linecap="round"/>
<path d="M488.9 1314.7V1336.7" stroke-width="1.8" stroke-dasharray="7 1.5" stroke-linecap="round"/>
<path d="M417.6 1340.7L489.5 1340.7L489.5 1412" stroke-width="9" stroke-linejoin="miter" stroke-linecap="butt"/>
<path d="M484.9 1348.7L484.9 1412" stroke-width="6.4" stroke-linecap="round" stroke-dasharray="0.01 7.6"/>
<path d="M488.9 1410L488.9 1528.6" stroke-width="5.6"/>
<path d="M486.2 1412L486.2 1527.6" stroke-width="6.4" stroke-linecap="round" stroke-dasharray="0.01 7.6"/>
<path d="M491.6 1412L491.6 1527.6" stroke-width="6.4" stroke-linecap="round" stroke-dasharray="0.01 7.6"/>
<path d="M422.1 1346.7L422.1 1358.7" stroke-width="6.4" stroke-linecap="round" stroke-dasharray="0.01 7.6"/>
<path d="M417.6 1361.7L488.9 1361.7" stroke-width="7.4"/>
<path d="M471.9 1359L471.9 1347.7A14.7 10.3 0 0 0 457.2 1358" stroke-width="5" stroke-linejoin="round"/>
<path d="M417.6 1433L488.9 1433" stroke-width="7.6"/>
<path d="M471.9 1430.3L471.9 1419A14.7 10.3 0 0 0 457.2 1429.3" stroke-width="5" stroke-linejoin="round"/>
<path d="M454.1 1433L454.1 1477.3" stroke-width="7"/>
<path d="M437.1 1478.3L488.9 1478.3" stroke-width="11" stroke-linejoin="miter" stroke-linecap="butt"/>
<path d="M433.6 1470.3L442.1 1461.3L451.6 1461.3" stroke-width="5.6" stroke-linejoin="round" stroke-linecap="round"/>
<path d="M440.3 1436.8A10.3 10.7 0 0 0 450.6 1447.5" stroke-width="5"/>
<path d="M457.6 1464.5A12.1 8.3 0 0 1 469.7 1472.8" stroke-width="5"/>
<path d="M388 1429L436.6 1477.6" stroke-width="7.6"/>
<path d="M390 1433L417.6 1433" stroke-width="7.6"/>
<path d="M560.2 1386V1408" stroke-width="1.8" stroke-dasharray="7 1.5" stroke-linecap="round"/>
<path d="M488.9 1412L560.8 1412L560.8 1483.3" stroke-width="9" stroke-linejoin="miter" stroke-linecap="butt"/>
<path d="M556.2 1420L556.2 1483.3" stroke-width="6.4" stroke-linecap="round" stroke-dasharray="0.01 7.6"/>
<path d="M560.2 1481.3L560.2 1601.2" stroke-width="5.6"/>
<path d="M557.5 1483.3L557.5 1600.2" stroke-width="6.4" stroke-linecap="round" stroke-dasharray="0.01 7.6"/>
<path d="M562.9 1483.3L562.9 1600.2" stroke-width="6.4" stroke-linecap="round" stroke-dasharray="0.01 7.6"/>
<path d="M493.4 1418L493.4 1430" stroke-width="6.4" stroke-linecap="round" stroke-dasharray="0.01 7.6"/>
<path d="M488.9 1433L560.2 1433" stroke-width="7.4"/>
<path d="M543.2 1430.3L543.2 1419A14.7 10.3 0 0 0 528.5 1429.3" stroke-width="5" stroke-linejoin="round"/>
<path d="M488.9 1504.3L560.2 1504.3" stroke-width="7.6"/>
<path d="M506.9 1501.6L506.9 1491.5A13.7 9.1 0 0 1 520.6 1500.6" stroke-width="5" stroke-linejoin="round"/>
<path d="M487.9 1528.9L532.6 1573.6" stroke-width="8" stroke-linecap="round"/>
<path d="M528.9 1534.1L560.2 1534.1" stroke-width="7"/>
<path d="M521.1 1541.1A14.6 14.6 0 0 0 500.5 1541.1" stroke-width="4.6"/>
<path d="M511.8 1550.4L529.9 1534.1" stroke-width="6" stroke-linecap="round"/>
<path d="M530.4 1536.6L530.4 1546.7A12.5 9.1 0 0 0 542.9 1537.6" stroke-width="4.5" stroke-linejoin="round"/>
<path d="M544.4 1537.6L544.4 1549.6" stroke-width="4.4" stroke-linecap="round"/>
<path d="M631.5 1457.3V1479.3" stroke-width="1.8" stroke-dasharray="7 1.5" stroke-linecap="round"/>
<path d="M560.2 1483.3L632.1 1483.3L632.1 1554.6" stroke-width="9" stroke-linejoin="miter" stroke-linecap="butt"/>
<path d="M627.5 1491.3L627.5 1554.6" stroke-width="6.4" stroke-linecap="round" stroke-dasharray="0.01 7.6"/>
<path d="M631.5 1552.6L631.5 1671.2" stroke-width="5.6"/>
<path d="M628.8 1554.6L628.8 1670.2" stroke-width="6.4" stroke-linecap="round" stroke-dasharray="0.01 7.6"/>
<path d="M634.2 1554.6L634.2 1670.2" stroke-width="6.4" stroke-linecap="round" stroke-dasharray="0.01 7.6"/>
<path d="M564.7 1489.3L564.7 1501.3" stroke-width="6.4" stroke-linecap="round" stroke-dasharray="0.01 7.6"/>
<path d="M560.2 1504.3L631.5 1504.3" stroke-width="7.4"/>
<path d="M614.5 1501.6L614.5 1490.3A14.7 10.3 0 0 0 599.8 1500.6" stroke-width="5" stroke-linejoin="round"/>
<path d="M560.2 1575.6L631.5 1575.6" stroke-width="7.6"/>
<path d="M614.5 1572.9L614.5 1561.6A14.7 10.3 0 0 0 599.8 1571.9" stroke-width="5" stroke-linejoin="round"/>
<path d="M596.7 1575.6L596.7 1619.9" stroke-width="7"/>
<path d="M579.7 1620.9L631.5 1620.9" stroke-width="11" stroke-linejoin="miter" stroke-linecap="butt"/>
<path d="M576.2 1612.9L584.7 1603.9L594.2 1603.9" stroke-width="5.6" stroke-linejoin="round" stroke-linecap="round"/>
<path d="M582.9 1579.4A10.3 10.7 0 0 0 593.2 1590.1" stroke-width="5"/>
<path d="M600.2 1607.1A12.1 8.3 0 0 1 612.3 1615.4" stroke-width="5"/>
<path d="M530.6 1571.6L579.2 1620.2" stroke-width="7.6"/>
<path d="M532.6 1575.6L560.2 1575.6" stroke-width="7.6"/>
<path d="M702.8 1528.6V1550.6" stroke-width="1.8" stroke-dasharray="7 1.5" stroke-linecap="round"/>
<path d="M631.5 1554.6L703.4 1554.6L703.4 1625.9" stroke-width="9" stroke-linejoin="miter" stroke-linecap="butt"/>
<path d="M698.8 1562.6L698.8 1625.9" stroke-width="6.4" stroke-linecap="round" stroke-dasharray="0.01 7.6"/>
<path d="M702.8 1623.9L702.8 1743.8" stroke-width="5.6"/>
<path d="M700.1 1625.9L700.1 1742.8" stroke-width="6.4" stroke-linecap="round" stroke-dasharray="0.01 7.6"/>
<path d="M705.5 1625.9L705.5 1742.8" stroke-width="6.4" stroke-linecap="round" stroke-dasharray="0.01 7.6"/>
<path d="M636 1560.6L636 1572.6" stroke-width="6.4" stroke-linecap="round" stroke-dasharray="0.01 7.6"/>
<path d="M631.5 1575.6L702.8 1575.6" stroke-width="7.4"/>
<path d="M685.8 1572.9L685.8 1561.6A14.7 10.3 0 0 0 671.1 1571.9" stroke-width="5" stroke-linejoin="round"/>
<path d="M631.5 1646.9L702.8 1646.9" stroke-width="7.6"/>
<path d="M649.5 1644.2L649.5 1634.1A13.7 9.1 0 0 1 663.2 1643.2" stroke-width="5" stroke-linejoin="round"/>
<path d="M630.5 1671.5L675.2 1716.2" stroke-width="8" stroke-linecap="round"/>
<path d="M671.5 1676.7L702.8 1676.7" stroke-width="7"/>
<path d="M663.7 1683.7A14.6 14.6 0 0 0 643.1 1683.7" stroke-width="4.6"/>
<path d="M654.4 1693L672.5 1676.7" stroke-width="6" stroke-linecap="round"/>
<path d="M673 1679.2L673 1689.3A12.5 9.1 0 0 0 685.5 1680.2" stroke-width="4.5" stroke-linejoin="round"/>
<path d="M687 1680.2L687 1692.2" stroke-width="4.4" stroke-linecap="round"/>
<path d="M702.8 1625.9L780.5 1625.9" stroke-width="8"/>
<path d="M707.3 1631.9L707.3 1643.9" stroke-width="6.4" stroke-linecap="round" stroke-dasharray="0.01 7.6"/>
<path d="M702.8 1646.9L774.1 1646.9" stroke-width="7.4"/>
<path d="M757.1 1644.2L757.1 1632.9A14.7 10.3 0 0 0 742.4 1643.2" stroke-width="5" stroke-linejoin="round"/>
<path d="M702.8 1718.2L774.1 1718.2" stroke-width="7.6"/>
<path d="M757.1 1715.5L757.1 1704.2A14.7 10.3 0 0 0 742.4 1714.5" stroke-width="5" stroke-linejoin="round"/>
<path d="M739.3 1718.2L739.3 1762.5" stroke-width="7"/>
<path d="M722.3 1763.5L774.1 1763.5" stroke-width="11" stroke-linejoin="miter" stroke-linecap="butt"/>
<path d="M718.8 1755.5L727.3 1746.5L736.8 1746.5" stroke-width="5.6" stroke-linejoin="round" stroke-linecap="round"/>
<path d="M725.5 1722A10.3 10.7 0 0 0 735.8 1732.7" stroke-width="5"/>
<path d="M742.8 1749.7A12.1 8.3 0 0 1 754.9 1758" stroke-width="5"/>
<path d="M673.2 1714.2L721.8 1762.8" stroke-width="7.6"/>
<path d="M675.2 1718.2L702.8 1718.2" stroke-width="7.6"/></g>
<g transform="translate(2127 0) scale(-1 1)"><path d="M275 1169V1194" stroke-width="2" stroke-dasharray="7 1.5" stroke-linecap="round"/>
<path d="M346.3 1169V1194" stroke-width="2" stroke-dasharray="7 1.5" stroke-linecap="round"/>
<path d="M275 1326L275 1198L347.1 1198L347.1 1269.4" stroke-width="9.6" stroke-linejoin="miter" stroke-linecap="butt"/>
<path d="M279.6 1206L279.6 1214" stroke-width="6.4" stroke-linecap="round" stroke-dasharray="0.01 7.6"/>
<path d="M279.8 1286L279.8 1322" stroke-width="6.4" stroke-linecap="round" stroke-dasharray="0.01 7.6"/>
<path d="M275 1215L346.3 1215" stroke-width="7.4"/>
<path d="M340.4 1212.4L340.4 1202.7A10.2 8.7 0 0 0 330.2 1211.4" stroke-width="5" stroke-linejoin="round"/>
<rect x="279" y="1218" width="45.7" height="65.5" fill="#000" stroke="none"/>
<rect x="281.8" y="1224.4" width="15.6" height="11.6" fill="#fff" stroke="none"/>
<rect x="300.2" y="1224.4" width="8.6" height="11.6" fill="#fff" stroke="none"/>
<path d="M325 1222L325 1282" stroke-width="6.4" stroke-linecap="round" stroke-dasharray="0.01 7.6"/>
<path d="M322 1274L330 1274" stroke-width="1.6"/>
<path d="M343.1 1222L343.1 1269.4" stroke-width="6.4" stroke-linecap="round" stroke-dasharray="0.01 7.6"/>
<path d="M346.3 1267.4L346.3 1386" stroke-width="5.6"/>
<path d="M343.6 1269.4L343.6 1385" stroke-width="6.4" stroke-linecap="round" stroke-dasharray="0.01 7.6"/>
<path d="M349 1269.4L349 1385" stroke-width="6.4" stroke-linecap="round" stroke-dasharray="0.01 7.6"/>
<path d="M275.5 1316.5L293.5 1335L346.3 1335" stroke-width="10.5" stroke-linejoin="miter" stroke-linecap="butt"/>
<path d="M307.5 1331L307.5 1320.8A10.7 9.2 0 0 0 296.8 1330" stroke-width="5" stroke-linejoin="round"/>
<path d="M235.4 1336.7L235.4 1315L255.3 1295.2L275 1295.2" stroke-width="8" stroke-linejoin="miter" stroke-linecap="butt"/>
<path d="M256 1332L274 1314" stroke-width="5.4" stroke-linecap="round"/>
<path d="M274 1317.8Q262 1304.3 260.5 1308.3Q255 1318.3 262 1329.3" stroke-width="3" stroke-linejoin="round"/>
<path d="M158 1217.7L772 1831.7" stroke-width="1.8"/>
<path d="M235.4 1334.7L138.5 1334.7L138.5 1406L209.8 1406L209.8 1477.3L281.1 1477.3L281.1 1548.6L352.4 1548.6L352.4 1619.9L423.7 1619.9L423.7 1691.2L495 1691.2L495 1762.5L566.3 1762.5L566.3 1833.8" stroke-width="8.6" stroke-linejoin="miter" stroke-linecap="butt"/>
<path d="M108.5 1334.7H134.5" stroke-width="2" stroke-dasharray="9 1"/>
<path d="M142.5 1334.7L256 1334.7" stroke-width="7.2"/>
<path d="M257 1334.7L275 1334.7" stroke-width="1.6"/>
<path d="M160.5 1338.7L255 1338.7" stroke-width="6.4" stroke-linecap="round" stroke-dasharray="0.01 7.6"/>
<path d="M157.2 1334.7L157.2 1406" stroke-width="7"/>
<path d="M141.5 1337.7L208 1403" stroke-width="5.4"/>
<path d="M230.5 1334.7L230.5 1477.3" stroke-width="7.6"/>
<path d="M154.8 1388.1L144.7 1388.1A9.1 14.2 0 0 1 153.8 1373.9" stroke-width="5" stroke-linejoin="round"/>
<path d="M228.1 1388.5L217 1388.5A10.1 14.2 0 0 1 227.1 1374.3" stroke-width="5" stroke-linejoin="round"/>
<path d="M230.5 1371.7L275 1371.7" stroke-width="7"/>
<path d="M275.6 1352.7L275.6 1406" stroke-width="10.4"/>
<path d="M234.1 1358A11.1 10.7 0 0 1 245.2 1368.7" stroke-width="5"/>
<path d="M261.1 1374.7A9.5 11.7 0 0 0 270.6 1386.4" stroke-width="5"/>
<path d="M258.6 1355.7L258.6 1368.7" stroke-width="6.6"/>
<path d="M260 1356.7L267 1349.2" stroke-width="4.6" stroke-linecap="round"/>
<path d="M255 1334L275 1354" stroke-width="1.6"/>
<path d="M108.5 1406H134.5" stroke-width="2" stroke-dasharray="9 1"/>
<path d="M142.5 1406L329.3 1406" stroke-width="7.2"/>
<path d="M328.3 1406L346.3 1406" stroke-width="1.6"/>
<path d="M144.5 1402.4L324.3 1402.4" stroke-width="6.4" stroke-linecap="round" stroke-dasharray="0.01 7.6"/>
<path d="M215.8 1409.6L326.3 1409.6" stroke-width="6.4" stroke-linecap="round" stroke-dasharray="0.01 7.6"/>
<path d="M301.8 1406L301.8 1548.6" stroke-width="7.6"/>
<path d="M228.1 1459.4L217 1459.4A10.1 13.5 0 0 1 227.1 1445.9" stroke-width="5" stroke-linejoin="round"/>
<path d="M299.4 1423.2L290.1 1423.2A8.3 12.9 0 0 0 298.4 1436.1" stroke-width="5" stroke-linejoin="round"/>
<path d="M325.3 1404.3L396.6 1475.6" stroke-width="7.6" stroke-linecap="round"/>
<path d="M396.6 1475.6L416.1 1495.1" stroke-width="1.8"/>
<path d="M348.5 1429.6L338.2 1439.9A14.6 14.6 0 0 1 338.2 1419.3" stroke-width="4.6" stroke-linejoin="round"/>
<path d="M332 1443L332 1477.3" stroke-width="6.6"/>
<path d="M334.3 1445L344.6 1445A9.3 12.3 0 0 1 335.3 1457.3" stroke-width="4.5" stroke-linejoin="round"/>
<path d="M337 1460.5L346 1460.5" stroke-width="4.4" stroke-linecap="round"/>
<path d="M373.1 1452.1L373.1 1477.3" stroke-width="7.6"/>
<path d="M179.8 1477.3H205.8" stroke-width="2" stroke-dasharray="9 1"/>
<path d="M213.8 1477.3L400.6 1477.3" stroke-width="7.2"/>
<path d="M399.6 1477.3L417.6 1477.3" stroke-width="1.6"/>
<path d="M215.8 1473.7L395.6 1473.7" stroke-width="6.4" stroke-linecap="round" stroke-dasharray="0.01 7.6"/>
<path d="M287.1 1480.9L397.6 1480.9" stroke-width="6.4" stroke-linecap="round" stroke-dasharray="0.01 7.6"/>
<path d="M373.1 1477.3L373.1 1619.9" stroke-width="7.6"/>
<path d="M299.4 1530.7L289.3 1530.7A9.1 14.2 0 0 1 298.4 1516.5" stroke-width="5" stroke-linejoin="round"/>
<path d="M370.7 1531.1L359.6 1531.1A10.1 14.2 0 0 1 369.7 1516.9" stroke-width="5" stroke-linejoin="round"/>
<path d="M373.1 1514.3L417.6 1514.3" stroke-width="7"/>
<path d="M418.2 1495.3L418.2 1548.6" stroke-width="10.4"/>
<path d="M376.7 1500.6A11.1 10.7 0 0 1 387.8 1511.3" stroke-width="5"/>
<path d="M403.7 1517.3A9.5 11.7 0 0 0 413.2 1529" stroke-width="5"/>
<path d="M401.2 1498.3L401.2 1511.3" stroke-width="6.6"/>
<path d="M402.6 1499.3L409.6 1491.8" stroke-width="4.6" stroke-linecap="round"/>
<path d="M251.1 1548.6H277.1" stroke-width="2" stroke-dasharray="9 1"/>
<path d="M285.1 1548.6L471.9 1548.6" stroke-width="7.2"/>
<path d="M470.9 1548.6L488.9 1548.6" stroke-width="1.6"/>
<path d="M287.1 1545L466.9 1545" stroke-width="6.4" stroke-linecap="round" stroke-dasharray="0.01 7.6"/>
<path d="M358.4 1552.2L468.9 1552.2" stroke-width="6.4" stroke-linecap="round" stroke-dasharray="0.01 7.6"/>
<path d="M444.4 1548.6L444.4 1691.2" stroke-width="7.6"/>
<path d="M370.7 1602L359.6 1602A10.1 13.5 0 0 1 369.7 1588.5" stroke-width="5" stroke-linejoin="round"/>
<path d="M442 1565.8L432.7 1565.8A8.3 12.9 0 0 0 441 1578.7" stroke-width="5" stroke-linejoin="round"/>
<path d="M467.9 1546.9L539.2 1618.2" stroke-width="7.6" stroke-linecap="round"/>
<path d="M539.2 1618.2L558.7 1637.7" stroke-width="1.8"/>
<path d="M491.1 1572.2L480.8 1582.5A14.6 14.6 0 0 1 480.8 1561.9" stroke-width="4.6" stroke-linejoin="round"/>
<path d="M474.6 1585.6L474.6 1619.9" stroke-width="6.6"/>
<path d="M476.9 1587.6L487.2 1587.6A9.3 12.3 0 0 1 477.9 1599.9" stroke-width="4.5" stroke-linejoin="round"/>
<path d="M479.6 1603.1L488.6 1603.1" stroke-width="4.4" stroke-linecap="round"/>
<path d="M515.7 1594.7L515.7 1619.9" stroke-width="7.6"/>
<path d="M322.4 1619.9H348.4" stroke-width="2" stroke-dasharray="9 1"/>
<path d="M356.4 1619.9L543.2 1619.9" stroke-width="7.2"/>
<path d="M542.2 1619.9L560.2 1619.9" stroke-width="1.6"/>
<path d="M358.4 1616.3L538.2 1616.3" stroke-width="6.4" stroke-linecap="round" stroke-dasharray="0.01 7.6"/>
<path d="M429.7 1623.5L540.2 1623.5" stroke-width="6.4" stroke-linecap="round" stroke-dasharray="0.01 7.6"/>
<path d="M515.7 1619.9L515.7 1762.5" stroke-width="7.6"/>
<path d="M442 1673.3L431.9 1673.3A9.1 14.2 0 0 1 441 1659.1" stroke-width="5" stroke-linejoin="round"/>
<path d="M513.3 1673.7L502.2 1673.7A10.1 14.2 0 0 1 512.3 1659.5" stroke-width="5" stroke-linejoin="round"/>
<path d="M515.7 1656.9L560.2 1656.9" stroke-width="7"/>
<path d="M560.8 1637.9L560.8 1691.2" stroke-width="10.4"/>
<path d="M519.3 1643.2A11.1 10.7 0 0 1 530.4 1653.9" stroke-width="5"/>
<path d="M546.3 1659.9A9.5 11.7 0 0 0 555.8 1671.6" stroke-width="5"/>
<path d="M543.8 1640.9L543.8 1653.9" stroke-width="6.6"/>
<path d="M545.2 1641.9L552.2 1634.4" stroke-width="4.6" stroke-linecap="round"/>
<path d="M393.7 1691.2H419.7" stroke-width="2" stroke-dasharray="9 1"/>
<path d="M427.7 1691.2L614.5 1691.2" stroke-width="7.2"/>
<path d="M613.5 1691.2L631.5 1691.2" stroke-width="1.6"/>
<path d="M429.7 1687.6L609.5 1687.6" stroke-width="6.4" stroke-linecap="round" stroke-dasharray="0.01 7.6"/>
<path d="M501 1694.8L611.5 1694.8" stroke-width="6.4" stroke-linecap="round" stroke-dasharray="0.01 7.6"/>
<path d="M587 1691.2L587 1833.8" stroke-width="7.6"/>
<path d="M513.3 1744.6L502.2 1744.6A10.1 13.5 0 0 1 512.3 1731.1" stroke-width="5" stroke-linejoin="round"/>
<path d="M584.6 1708.4L575.3 1708.4A8.3 12.9 0 0 0 583.6 1721.3" stroke-width="5" stroke-linejoin="round"/>
<path d="M610.5 1689.5L681.8 1760.8" stroke-width="7.6" stroke-linecap="round"/>
<path d="M681.8 1760.8L701.3 1780.3" stroke-width="1.8"/>
<path d="M633.7 1714.8L623.4 1725.1A14.6 14.6 0 0 1 623.4 1704.5" stroke-width="4.6" stroke-linejoin="round"/>
<path d="M617.2 1728.2L617.2 1762.5" stroke-width="6.6"/>
<path d="M619.5 1730.2L629.8 1730.2A9.3 12.3 0 0 1 620.5 1742.5" stroke-width="4.5" stroke-linejoin="round"/>
<path d="M622.2 1745.7L631.2 1745.7" stroke-width="4.4" stroke-linecap="round"/>
<path d="M658.3 1737.3L658.3 1762.5" stroke-width="7.6"/>
<path d="M465 1762.5H491" stroke-width="2" stroke-dasharray="9 1"/>
<path d="M499 1762.5L685.8 1762.5" stroke-width="7.2"/>
<path d="M684.8 1762.5L702.8 1762.5" stroke-width="1.6"/>
<path d="M501 1758.9L680.8 1758.9" stroke-width="6.4" stroke-linecap="round" stroke-dasharray="0.01 7.6"/>
<path d="M572.3 1766.1L682.8 1766.1" stroke-width="6.4" stroke-linecap="round" stroke-dasharray="0.01 7.6"/>
<path d="M658.3 1762.5L658.3 1833.8" stroke-width="7.6"/>
<path d="M584.6 1815.9L574.5 1815.9A9.1 14.2 0 0 1 583.6 1801.7" stroke-width="5" stroke-linejoin="round"/>
<path d="M655.9 1816.3L644.8 1816.3A10.1 14.2 0 0 1 654.9 1802.1" stroke-width="5" stroke-linejoin="round"/>
<path d="M658.3 1799.5L702.8 1799.5" stroke-width="7"/>
<path d="M703.4 1780.5L703.4 1856.8" stroke-width="10.4"/>
<path d="M661.9 1785.8A11.1 10.7 0 0 1 673 1796.5" stroke-width="5"/>
<path d="M688.9 1802.5A9.5 11.7 0 0 0 698.4 1814.2" stroke-width="5"/>
<path d="M686.4 1783.5L686.4 1796.5" stroke-width="6.6"/>
<path d="M687.8 1784.5L694.8 1777" stroke-width="4.6" stroke-linecap="round"/>
<path d="M536.3 1833.8H562.3" stroke-width="2" stroke-dasharray="9 1"/>
<path d="M566.3 1833.8L700 1833.8" stroke-width="6.4"/>
<path d="M568.3 1830.6L699 1830.6" stroke-width="6.4" stroke-linecap="round" stroke-dasharray="0.01 7.6"/>
<path d="M708 1831.8H772" stroke-width="1.6" stroke-dasharray="7 1.5"/>
<path d="M703.8 1821.8L703.8 1852.4L774 1852.4" stroke-width="10" stroke-linejoin="miter" stroke-linecap="butt"/>
<path d="M417.6 1243.4V1265.4" stroke-width="1.8" stroke-dasharray="7 1.5" stroke-linecap="round"/>
<path d="M346.3 1269.4L418.2 1269.4L418.2 1340.7" stroke-width="9" stroke-linejoin="miter" stroke-linecap="butt"/>
<path d="M413.6 1277.4L413.6 1340.7" stroke-width="6.4" stroke-linecap="round" stroke-dasharray="0.01 7.6"/>
<path d="M417.6 1338.7L417.6 1458.6" stroke-width="5.6"/>
<path d="M414.9 1340.7L414.9 1457.6" stroke-width="6.4" stroke-linecap="round" stroke-dasharray="0.01 7.6"/>
<path d="M420.3 1340.7L420.3 1457.6" stroke-width="6.4" stroke-linecap="round" stroke-dasharray="0.01 7.6"/>
<path d="M350.8 1275.4L350.8 1287.4" stroke-width="6.4" stroke-linecap="round" stroke-dasharray="0.01 7.6"/>
<path d="M346.3 1290.4L417.6 1290.4" stroke-width="7.4"/>
<path d="M400.6 1287.7L400.6 1276.4A14.7 10.3 0 0 0 385.9 1286.7" stroke-width="5" stroke-linejoin="round"/>
<path d="M346.3 1361.7L417.6 1361.7" stroke-width="7.6"/>
<path d="M364.3 1359L364.3 1348.9A13.7 9.1 0 0 1 378 1358" stroke-width="5" stroke-linejoin="round"/>
<path d="M345.3 1386.3L390 1431" stroke-width="8" stroke-linecap="round"/>
<path d="M386.3 1391.5L417.6 1391.5" stroke-width="7"/>
<path d="M378.5 1398.5A14.6 14.6 0 0 0 357.9 1398.5" stroke-width="4.6"/>
<path d="M369.2 1407.8L387.3 1391.5" stroke-width="6" stroke-linecap="round"/>
<path d="M387.8 1394L387.8 1404.1A12.5 9.1 0 0 0 400.3 1395" stroke-width="4.5" stroke-linejoin="round"/>
<path d="M401.8 1395L401.8 1407" stroke-width="4.4" stroke-linecap="round"/>
<path d="M488.9 1314.7V1336.7" stroke-width="1.8" stroke-dasharray="7 1.5" stroke-linecap="round"/>
<path d="M417.6 1340.7L489.5 1340.7L489.5 1412" stroke-width="9" stroke-linejoin="miter" stroke-linecap="butt"/>
<path d="M484.9 1348.7L484.9 1412" stroke-width="6.4" stroke-linecap="round" stroke-dasharray="0.01 7.6"/>
<path d="M488.9 1410L488.9 1528.6" stroke-width="5.6"/>
<path d="M486.2 1412L486.2 1527.6" stroke-width="6.4" stroke-linecap="round" stroke-dasharray="0.01 7.6"/>
<path d="M491.6 1412L491.6 1527.6" stroke-width="6.4" stroke-linecap="round" stroke-dasharray="0.01 7.6"/>
<path d="M422.1 1346.7L422.1 1358.7" stroke-width="6.4" stroke-linecap="round" stroke-dasharray="0.01 7.6"/>
<path d="M417.6 1361.7L488.9 1361.7" stroke-width="7.4"/>
<path d="M471.9 1359L471.9 1347.7A14.7 10.3 0 0 0 457.2 1358" stroke-width="5" stroke-linejoin="round"/>
<path d="M417.6 1433L488.9 1433" stroke-width="7.6"/>
<path d="M471.9 1430.3L471.9 1419A14.7 10.3 0 0 0 457.2 1429.3" stroke-width="5" stroke-linejoin="round"/>
<path d="M454.1 1433L454.1 1477.3" stroke-width="7"/>
<path d="M437.1 1478.3L488.9 1478.3" stroke-width="11" stroke-linejoin="miter" stroke-linecap="butt"/>
<path d="M433.6 1470.3L442.1 1461.3L451.6 1461.3" stroke-width="5.6" stroke-linejoin="round" stroke-linecap="round"/>
<path d="M440.3 1436.8A10.3 10.7 0 0 0 450.6 1447.5" stroke-width="5"/>
<path d="M457.6 1464.5A12.1 8.3 0 0 1 469.7 1472.8" stroke-width="5"/>
<path d="M388 1429L436.6 1477.6" stroke-width="7.6"/>
<path d="M390 1433L417.6 1433" stroke-width="7.6"/>
<path d="M560.2 1386V1408" stroke-width="1.8" stroke-dasharray="7 1.5" stroke-linecap="round"/>
<path d="M488.9 1412L560.8 1412L560.8 1483.3" stroke-width="9" stroke-linejoin="miter" stroke-linecap="butt"/>
<path d="M556.2 1420L556.2 1483.3" stroke-width="6.4" stroke-linecap="round" stroke-dasharray="0.01 7.6"/>
<path d="M560.2 1481.3L560.2 1601.2" stroke-width="5.6"/>
<path d="M557.5 1483.3L557.5 1600.2" stroke-width="6.4" stroke-linecap="round" stroke-dasharray="0.01 7.6"/>
<path d="M562.9 1483.3L562.9 1600.2" stroke-width="6.4" stroke-linecap="round" stroke-dasharray="0.01 7.6"/>
<path d="M493.4 1418L493.4 1430" stroke-width="6.4" stroke-linecap="round" stroke-dasharray="0.01 7.6"/>
<path d="M488.9 1433L560.2 1433" stroke-width="7.4"/>
<path d="M543.2 1430.3L543.2 1419A14.7 10.3 0 0 0 528.5 1429.3" stroke-width="5" stroke-linejoin="round"/>
<path d="M488.9 1504.3L560.2 1504.3" stroke-width="7.6"/>
<path d="M506.9 1501.6L506.9 1491.5A13.7 9.1 0 0 1 520.6 1500.6" stroke-width="5" stroke-linejoin="round"/>
<path d="M487.9 1528.9L532.6 1573.6" stroke-width="8" stroke-linecap="round"/>
<path d="M528.9 1534.1L560.2 1534.1" stroke-width="7"/>
<path d="M521.1 1541.1A14.6 14.6 0 0 0 500.5 1541.1" stroke-width="4.6"/>
<path d="M511.8 1550.4L529.9 1534.1" stroke-width="6" stroke-linecap="round"/>
<path d="M530.4 1536.6L530.4 1546.7A12.5 9.1 0 0 0 542.9 1537.6" stroke-width="4.5" stroke-linejoin="round"/>
<path d="M544.4 1537.6L544.4 1549.6" stroke-width="4.4" stroke-linecap="round"/>
<path d="M631.5 1457.3V1479.3" stroke-width="1.8" stroke-dasharray="7 1.5" stroke-linecap="round"/>
<path d="M560.2 1483.3L632.1 1483.3L632.1 1554.6" stroke-width="9" stroke-linejoin="miter" stroke-linecap="butt"/>
<path d="M627.5 1491.3L627.5 1554.6" stroke-width="6.4" stroke-linecap="round" stroke-dasharray="0.01 7.6"/>
<path d="M631.5 1552.6L631.5 1671.2" stroke-width="5.6"/>
<path d="M628.8 1554.6L628.8 1670.2" stroke-width="6.4" stroke-linecap="round" stroke-dasharray="0.01 7.6"/>
<path d="M634.2 1554.6L634.2 1670.2" stroke-width="6.4" stroke-linecap="round" stroke-dasharray="0.01 7.6"/>
<path d="M564.7 1489.3L564.7 1501.3" stroke-width="6.4" stroke-linecap="round" stroke-dasharray="0.01 7.6"/>
<path d="M560.2 1504.3L631.5 1504.3" stroke-width="7.4"/>
<path d="M614.5 1501.6L614.5 1490.3A14.7 10.3 0 0 0 599.8 1500.6" stroke-width="5" stroke-linejoin="round"/>
<path d="M560.2 1575.6L631.5 1575.6" stroke-width="7.6"/>
<path d="M614.5 1572.9L614.5 1561.6A14.7 10.3 0 0 0 599.8 1571.9" stroke-width="5" stroke-linejoin="round"/>
<path d="M596.7 1575.6L596.7 1619.9" stroke-width="7"/>
<path d="M579.7 1620.9L631.5 1620.9" stroke-width="11" stroke-linejoin="miter" stroke-linecap="butt"/>
<path d="M576.2 1612.9L584.7 1603.9L594.2 1603.9" stroke-width="5.6" stroke-linejoin="round" stroke-linecap="round"/>
<path d="M582.9 1579.4A10.3 10.7 0 0 0 593.2 1590.1" stroke-width="5"/>
<path d="M600.2 1607.1A12.1 8.3 0 0 1 612.3 1615.4" stroke-width="5"/>
<path d="M530.6 1571.6L579.2 1620.2" stroke-width="7.6"/>
<path d="M532.6 1575.6L560.2 1575.6" stroke-width="7.6"/>
<path d="M702.8 1528.6V1550.6" stroke-width="1.8" stroke-dasharray="7 1.5" stroke-linecap="round"/>
<path d="M631.5 1554.6L703.4 1554.6L703.4 1625.9" stroke-width="9" stroke-linejoin="miter" stroke-linecap="butt"/>
<path d="M698.8 1562.6L698.8 1625.9" stroke-width="6.4" stroke-linecap="round" stroke-dasharray="0.01 7.6"/>
<path d="M702.8 1623.9L702.8 1743.8" stroke-width="5.6"/>
<path d="M700.1 1625.9L700.1 1742.8" stroke-width="6.4" stroke-linecap="round" stroke-dasharray="0.01 7.6"/>
<path d="M705.5 1625.9L705.5 1742.8" stroke-width="6.4" stroke-linecap="round" stroke-dasharray="0.01 7.6"/>
<path d="M636 1560.6L636 1572.6" stroke-width="6.4" stroke-linecap="round" stroke-dasharray="0.01 7.6"/>
<path d="M631.5 1575.6L702.8 1575.6" stroke-width="7.4"/>
<path d="M685.8 1572.9L685.8 1561.6A14.7 10.3 0 0 0 671.1 1571.9" stroke-width="5" stroke-linejoin="round"/>
<path d="M631.5 1646.9L702.8 1646.9" stroke-width="7.6"/>
<path d="M649.5 1644.2L649.5 1634.1A13.7 9.1 0 0 1 663.2 1643.2" stroke-width="5" stroke-linejoin="round"/>
<path d="M630.5 1671.5L675.2 1716.2" stroke-width="8" stroke-linecap="round"/>
<path d="M671.5 1676.7L702.8 1676.7" stroke-width="7"/>
<path d="M663.7 1683.7A14.6 14.6 0 0 0 643.1 1683.7" stroke-width="4.6"/>
<path d="M654.4 1693L672.5 1676.7" stroke-width="6" stroke-linecap="round"/>
<path d="M673 1679.2L673 1689.3A12.5 9.1 0 0 0 685.5 1680.2" stroke-width="4.5" stroke-linejoin="round"/>
<path d="M687 1680.2L687 1692.2" stroke-width="4.4" stroke-linecap="round"/>
<path d="M702.8 1625.9L780.5 1625.9" stroke-width="8"/>
<path d="M707.3 1631.9L707.3 1643.9" stroke-width="6.4" stroke-linecap="round" stroke-dasharray="0.01 7.6"/>
<path d="M702.8 1646.9L774.1 1646.9" stroke-width="7.4"/>
<path d="M757.1 1644.2L757.1 1632.9A14.7 10.3 0 0 0 742.4 1643.2" stroke-width="5" stroke-linejoin="round"/>
<path d="M702.8 1718.2L774.1 1718.2" stroke-width="7.6"/>
<path d="M757.1 1715.5L757.1 1704.2A14.7 10.3 0 0 0 742.4 1714.5" stroke-width="5" stroke-linejoin="round"/>
<path d="M739.3 1718.2L739.3 1762.5" stroke-width="7"/>
<path d="M722.3 1763.5L774.1 1763.5" stroke-width="11" stroke-linejoin="miter" stroke-linecap="butt"/>
<path d="M718.8 1755.5L727.3 1746.5L736.8 1746.5" stroke-width="5.6" stroke-linejoin="round" stroke-linecap="round"/>
<path d="M725.5 1722A10.3 10.7 0 0 0 735.8 1732.7" stroke-width="5"/>
<path d="M742.8 1749.7A12.1 8.3 0 0 1 754.9 1758" stroke-width="5"/>
<path d="M673.2 1714.2L721.8 1762.8" stroke-width="7.6"/>
<path d="M675.2 1718.2L702.8 1718.2" stroke-width="7.6"/></g>
<path d="M311.3 1169V1851.5" stroke-width="5.4" stroke-linecap="round"/>
<g><path d="M311.2 1943L311.2 2055.6L258 2055.6" stroke-width="6.6" stroke-linejoin="round" stroke-linecap="round"/>
<path d="M49 2039L11 2143L58 2143" stroke-width="9.4" stroke-linejoin="round" stroke-linecap="round"/>
<path d="M60 2090L43.5 2121.5" stroke-width="6.6" stroke-linecap="round"/>
<path d="M38.8 2148L38.8 2174" stroke-width="5"/>
<path d="M36.3 2159L58 2159" stroke-width="5.6"/>
<path d="M36.3 2171.6L58 2171.6" stroke-width="5"/>
<path d="M49 2040L260 2040" stroke-width="6.4"/>
<path d="M50 2057.8L300 2057.8" stroke-width="6.8"/>
<path d="M47.5 2040.8L65.3 2040.8" stroke-width="12.4" stroke-linecap="round"/>
<circle cx="74.9" cy="2059.2" r="6.6" fill="#000" stroke="none"/>
<path d="M94.8 2040.8L112.6 2040.8" stroke-width="12.4" stroke-linecap="round"/>
<circle cx="122.2" cy="2059.2" r="6.6" fill="#000" stroke="none"/>
<path d="M142.1 2040.8L159.9 2040.8" stroke-width="12.4" stroke-linecap="round"/>
<circle cx="169.5" cy="2059.2" r="6.6" fill="#000" stroke="none"/>
<path d="M189.4 2040.8L207.2 2040.8" stroke-width="12.4" stroke-linecap="round"/>
<circle cx="216.8" cy="2059.2" r="6.6" fill="#000" stroke="none"/>
<path d="M236.7 2040.8L254.5 2040.8" stroke-width="12.4" stroke-linecap="round"/>
<circle cx="264.1" cy="2059.2" r="6.6" fill="#000" stroke="none"/>
<circle cx="103" cy="2059.2" r="6.6" fill="#000" stroke="none"/>
<circle cx="150.3" cy="2059.2" r="6.6" fill="#000" stroke="none"/>
<circle cx="197.6" cy="2059.2" r="6.6" fill="#000" stroke="none"/>
<circle cx="244.9" cy="2059.2" r="6.6" fill="#000" stroke="none"/>
<circle cx="292.2" cy="2059.2" r="6.6" fill="#000" stroke="none"/>
<rect x="58.1" y="2038" width="13.2" height="352" fill="#000" stroke="none"/>
<path d="M64.7 2098L55.5 2118V2130H73.9V2118Z" fill="#000" stroke="none"/>
<rect x="105.4" y="2038" width="13.2" height="352" fill="#000" stroke="none"/>
<path d="M112 2098L102.8 2118V2130H121.2V2118Z" fill="#000" stroke="none"/>
<rect x="152.7" y="2038" width="13.2" height="352" fill="#000" stroke="none"/>
<path d="M159.3 2098L150.1 2118V2130H168.5V2118Z" fill="#000" stroke="none"/>
<rect x="200" y="2038" width="13.2" height="352" fill="#000" stroke="none"/>
<path d="M206.6 2098L197.4 2118V2130H215.8V2118Z" fill="#000" stroke="none"/>
<rect x="247.3" y="2038" width="13.2" height="352" fill="#000" stroke="none"/>
<path d="M253.9 2098L244.7 2118V2130H263.1V2118Z" fill="#000" stroke="none"/>
<rect x="295.4" y="2056" width="9.8" height="98" fill="#000" stroke="none"/>
<rect x="294" y="2153" width="13.6" height="247" fill="#000" stroke="none"/>
<path d="M302.2 2396L302.2 2418.5" stroke-width="9.6" stroke-linecap="round"/>
<circle cx="305.4" cy="2117.5" r="3.6" fill="#000" stroke="none"/>
<rect x="80.1" y="2058" width="12" height="25" fill="#000" stroke="none"/>
<rect x="70.5" y="2056" width="4.4" height="28" fill="#000" stroke="none"/>
<path d="M74.9 2084L70.5 2096H70.5V2084Z" fill="#000" stroke="none"/>
<path d="M83.9 2080L106 2114" stroke-width="13"/>
<path d="M77.1 2097L91.5 2120.4" stroke-width="7.8" stroke-linecap="round"/>
<path d="M91.5 2120.4L109.5 2091" stroke-width="8.4" stroke-linecap="round"/>
<path d="M85.5 2082L69.5 2108" stroke-width="9"/>
<rect x="127.4" y="2058" width="12" height="25" fill="#000" stroke="none"/>
<rect x="117.8" y="2056" width="4.4" height="28" fill="#000" stroke="none"/>
<path d="M122.2 2084L117.8 2096H117.8V2084Z" fill="#000" stroke="none"/>
<path d="M131.2 2080L153.3 2114" stroke-width="13"/>
<path d="M124.4 2097L138.8 2120.4" stroke-width="7.8" stroke-linecap="round"/>
<path d="M138.8 2120.4L156.8 2091" stroke-width="8.4" stroke-linecap="round"/>
<path d="M132.8 2082L116.8 2108" stroke-width="9"/>
<rect x="174.7" y="2058" width="12" height="25" fill="#000" stroke="none"/>
<rect x="165.1" y="2056" width="4.4" height="28" fill="#000" stroke="none"/>
<path d="M169.5 2084L165.1 2096H165.1V2084Z" fill="#000" stroke="none"/>
<path d="M178.5 2080L200.6 2114" stroke-width="13"/>
<path d="M171.7 2097L186.1 2120.4" stroke-width="7.8" stroke-linecap="round"/>
<path d="M186.1 2120.4L204.1 2091" stroke-width="8.4" stroke-linecap="round"/>
<path d="M180.1 2082L164.1 2108" stroke-width="9"/>
<rect x="222" y="2058" width="12" height="25" fill="#000" stroke="none"/>
<rect x="212.4" y="2056" width="4.4" height="28" fill="#000" stroke="none"/>
<path d="M216.8 2084L212.4 2096H212.4V2084Z" fill="#000" stroke="none"/>
<path d="M225.8 2080L247.9 2114" stroke-width="13"/>
<path d="M219 2097L233.4 2120.4" stroke-width="7.8" stroke-linecap="round"/>
<path d="M233.4 2120.4L251.4 2091" stroke-width="8.4" stroke-linecap="round"/>
<path d="M227.4 2082L211.4 2108" stroke-width="9"/>
<rect x="269.3" y="2058" width="12" height="25" fill="#000" stroke="none"/>
<rect x="259.7" y="2056" width="4.4" height="28" fill="#000" stroke="none"/>
<path d="M264.1 2084L259.7 2096H259.7V2084Z" fill="#000" stroke="none"/>
<path d="M273.1 2080L295.2 2114" stroke-width="13"/>
<path d="M266.3 2097L280.7 2120.4" stroke-width="7.8" stroke-linecap="round"/>
<path d="M280.7 2120.4L298.7 2091" stroke-width="8.4" stroke-linecap="round"/>
<path d="M274.7 2082L258.7 2108" stroke-width="9"/>
<rect x="57.4" y="2153.8" width="250.2" height="244.2" fill="#000" stroke="none"/>
<rect x="71.3" y="2124" width="33.7" height="29.8" fill="#fff" stroke="none"/>
<rect x="71.3" y="2159.8" width="33.7" height="12.6" fill="#fff" stroke="none" rx="1.2"/>
<rect x="71.3" y="2186.1" width="33.7" height="7.7" fill="#fff" stroke="none"/>
<rect x="71.3" y="2199.9" width="33.7" height="12" fill="#fff" stroke="none"/>
<rect x="77" y="2218.7" width="28" height="7.8" fill="#fff" stroke="none"/>
<rect x="71.3" y="2232.5" width="33.7" height="8.6" fill="#fff" stroke="none"/>
<rect x="71.3" y="2255.7" width="33.7" height="8.6" fill="#fff" stroke="none"/>
<rect x="77" y="2270.3" width="28" height="6.5" fill="#fff" stroke="none"/>
<rect x="71.3" y="2282.9" width="33.7" height="29.2" fill="#fff" stroke="none"/>
<path d="M57.3 2299.2H80.2 M96.2 2299.2H105" stroke="#555" stroke-width="0.7"/>
<text x="88.7" y="2301.7" font-size="6.9" font-weight="bold" text-anchor="middle">2.65</text>
<path d="M77.5 2328.3H95.5V2332.3H88.3V2335.2H77.5Z" fill="#fff" stroke="none"/>
<rect x="85.5" y="2326.9" width="10" height="2.4" fill="#fff" stroke="none"/>
<circle cx="82.5" cy="2327.7" r="3" fill="#000" stroke="none"/>
<circle cx="91.5" cy="2333.5" r="3" fill="#000" stroke="none"/>
<path d="M77.5 2344.3H95.5V2348.3H88.3V2352H77.5Z" fill="#fff" stroke="none"/>
<rect x="85.5" y="2342.9" width="10" height="2.4" fill="#fff" stroke="none"/>
<circle cx="82.5" cy="2343.7" r="3" fill="#000" stroke="none"/>
<circle cx="91.5" cy="2349.5" r="3" fill="#000" stroke="none"/>
<path d="M77.5 2378.1H95.5V2382.1H88.3V2383.6H77.5Z" fill="#fff" stroke="none"/>
<rect x="85.5" y="2376.7" width="10" height="2.4" fill="#fff" stroke="none"/>
<circle cx="82.5" cy="2377.5" r="3" fill="#000" stroke="none"/>
<circle cx="91.5" cy="2383.3" r="3" fill="#000" stroke="none"/>
<rect x="102.6" y="2326.9" width="2.4" height="26.9" fill="#fff" stroke="none"/>
<rect x="102.6" y="2374.7" width="2.4" height="8.9" fill="#fff" stroke="none"/>
<rect x="76.6" y="2360" width="28.4" height="8.7" fill="#fff" stroke="none"/>
<rect x="118.6" y="2124" width="33.7" height="29.8" fill="#fff" stroke="none"/>
<rect x="118.6" y="2159.8" width="33.7" height="12.6" fill="#fff" stroke="none" rx="1.2"/>
<rect x="118.6" y="2186.1" width="33.7" height="7.7" fill="#fff" stroke="none"/>
<rect x="118.6" y="2199.9" width="33.7" height="12" fill="#fff" stroke="none"/>
<rect x="124.6" y="2218.7" width="27.7" height="7.8" fill="#fff" stroke="none"/>
<rect x="118.6" y="2232.5" width="33.7" height="8.6" fill="#fff" stroke="none"/>
<rect x="118.6" y="2255.7" width="33.7" height="8.6" fill="#fff" stroke="none"/>
<rect x="124.6" y="2270.3" width="27.7" height="6.5" fill="#fff" stroke="none"/>
<rect x="118.6" y="2282.9" width="33.7" height="29.2" fill="#fff" stroke="none"/>
<path d="M104.6 2299.2H127.4 M143.4 2299.2H152.3" stroke="#555" stroke-width="0.7"/>
<text x="135.9" y="2301.7" font-size="6.9" font-weight="bold" text-anchor="middle">2.65</text>
<path d="M124.8 2328.3H142.8V2332.3H135.6V2335.2H124.8Z" fill="#fff" stroke="none"/>
<rect x="132.8" y="2326.9" width="10" height="2.4" fill="#fff" stroke="none"/>
<circle cx="129.8" cy="2327.7" r="3" fill="#000" stroke="none"/>
<circle cx="138.8" cy="2333.5" r="3" fill="#000" stroke="none"/>
<path d="M124.8 2344.3H142.8V2348.3H135.6V2352H124.8Z" fill="#fff" stroke="none"/>
<rect x="132.8" y="2342.9" width="10" height="2.4" fill="#fff" stroke="none"/>
<circle cx="129.8" cy="2343.7" r="3" fill="#000" stroke="none"/>
<circle cx="138.8" cy="2349.5" r="3" fill="#000" stroke="none"/>
<path d="M124.8 2378.1H142.8V2382.1H135.6V2383.6H124.8Z" fill="#fff" stroke="none"/>
<rect x="132.8" y="2376.7" width="10" height="2.4" fill="#fff" stroke="none"/>
<circle cx="129.8" cy="2377.5" r="3" fill="#000" stroke="none"/>
<circle cx="138.8" cy="2383.3" r="3" fill="#000" stroke="none"/>
<rect x="149.9" y="2326.9" width="2.4" height="26.9" fill="#fff" stroke="none"/>
<rect x="149.9" y="2374.7" width="2.4" height="8.9" fill="#fff" stroke="none"/>
<rect x="123.9" y="2360" width="28.4" height="8.7" fill="#fff" stroke="none"/>
<rect x="165.9" y="2124" width="33.7" height="29.8" fill="#fff" stroke="none"/>
<rect x="171.1" y="2159.8" width="28.5" height="12.6" fill="#fff" stroke="none" rx="1.2"/>
<rect x="171.1" y="2186.1" width="28.5" height="7.7" fill="#fff" stroke="none"/>
<rect x="165.9" y="2199.9" width="33.7" height="12" fill="#fff" stroke="none"/>
<rect x="171.9" y="2218.7" width="27.7" height="7.8" fill="#fff" stroke="none"/>
<rect x="165.9" y="2232.5" width="33.7" height="8.6" fill="#fff" stroke="none"/>
<rect x="165.9" y="2255.7" width="33.7" height="8.6" fill="#fff" stroke="none"/>
<rect x="171.9" y="2270.3" width="27.7" height="6.5" fill="#fff" stroke="none"/>
<rect x="165.9" y="2282.9" width="33.7" height="29.2" fill="#fff" stroke="none"/>
<path d="M151.9 2299.2H174.8 M190.8 2299.2H199.6" stroke="#555" stroke-width="0.7"/>
<text x="183.2" y="2301.7" font-size="6.9" font-weight="bold" text-anchor="middle">2.65</text>
<path d="M172.1 2328.3H190.1V2332.3H182.9V2335.2H172.1Z" fill="#fff" stroke="none"/>
<rect x="180.1" y="2326.9" width="10" height="2.4" fill="#fff" stroke="none"/>
<circle cx="177.1" cy="2327.7" r="3" fill="#000" stroke="none"/>
<circle cx="186.1" cy="2333.5" r="3" fill="#000" stroke="none"/>
<path d="M172.1 2344.3H190.1V2348.3H182.9V2352H172.1Z" fill="#fff" stroke="none"/>
<rect x="180.1" y="2342.9" width="10" height="2.4" fill="#fff" stroke="none"/>
<circle cx="177.1" cy="2343.7" r="3" fill="#000" stroke="none"/>
<circle cx="186.1" cy="2349.5" r="3" fill="#000" stroke="none"/>
<path d="M172.1 2378.1H190.1V2382.1H182.9V2383.6H172.1Z" fill="#fff" stroke="none"/>
<rect x="180.1" y="2376.7" width="10" height="2.4" fill="#fff" stroke="none"/>
<circle cx="177.1" cy="2377.5" r="3" fill="#000" stroke="none"/>
<circle cx="186.1" cy="2383.3" r="3" fill="#000" stroke="none"/>
<rect x="197.2" y="2326.9" width="2.4" height="26.9" fill="#fff" stroke="none"/>
<rect x="197.2" y="2374.7" width="2.4" height="8.9" fill="#fff" stroke="none"/>
<rect x="171.2" y="2360" width="28.4" height="8.7" fill="#fff" stroke="none"/>
<rect x="211.5" y="2124" width="35.4" height="29.8" fill="#fff" stroke="none"/>
<rect x="219.3" y="2159.8" width="27.6" height="12.6" fill="#fff" stroke="none" rx="1.2"/>
<rect x="219.3" y="2186.1" width="27.6" height="7.7" fill="#fff" stroke="none"/>
<rect x="211.5" y="2199.9" width="35.4" height="12" fill="#fff" stroke="none"/>
<rect x="220.1" y="2218.7" width="26.8" height="7.8" fill="#fff" stroke="none"/>
<rect x="211.5" y="2232.5" width="35.4" height="8.6" fill="#fff" stroke="none"/>
<rect x="211.5" y="2255.7" width="37" height="8.6" fill="#fff" stroke="none"/>
<rect x="220.1" y="2270.3" width="28.4" height="6.5" fill="#fff" stroke="none"/>
<rect x="211.5" y="2282.9" width="37" height="29.2" fill="#fff" stroke="none"/>
<rect x="211.5" y="2159.8" width="2.5" height="34" fill="#fff" stroke="none"/>
<rect x="211.5" y="2211.9" width="2.5" height="20.6" fill="#fff" stroke="none"/>
<rect x="211.5" y="2264.3" width="2.5" height="18.6" fill="#fff" stroke="none"/>
<path d="M197.5 2299.2H221.2 M237.2 2299.2H246.9" stroke="#555" stroke-width="0.7"/>
<text x="229.7" y="2301.7" font-size="6.9" font-weight="bold" text-anchor="middle">2.65</text>
<path d="M221 2328.3H239V2332.3H231.8V2335.2H221Z" fill="#fff" stroke="none"/>
<rect x="229" y="2326.9" width="10" height="2.4" fill="#fff" stroke="none"/>
<circle cx="226" cy="2327.7" r="3" fill="#000" stroke="none"/>
<circle cx="235" cy="2333.5" r="3" fill="#000" stroke="none"/>
<path d="M221 2344.3H239V2348.3H231.8V2352H221Z" fill="#fff" stroke="none"/>
<rect x="229" y="2342.9" width="10" height="2.4" fill="#fff" stroke="none"/>
<circle cx="226" cy="2343.7" r="3" fill="#000" stroke="none"/>
<circle cx="235" cy="2349.5" r="3" fill="#000" stroke="none"/>
<path d="M221 2378.1H239V2382.1H231.8V2383.6H221Z" fill="#fff" stroke="none"/>
<rect x="229" y="2376.7" width="10" height="2.4" fill="#fff" stroke="none"/>
<circle cx="226" cy="2377.5" r="3" fill="#000" stroke="none"/>
<circle cx="235" cy="2383.3" r="3" fill="#000" stroke="none"/>
<rect x="244.5" y="2326.9" width="2.4" height="26.9" fill="#fff" stroke="none"/>
<rect x="244.5" y="2374.7" width="2.4" height="8.9" fill="#fff" stroke="none"/>
<rect x="220.1" y="2360" width="26.8" height="8.7" fill="#fff" stroke="none"/>
<rect x="261.3" y="2124" width="32.6" height="29.8" fill="#fff" stroke="none"/>
<rect x="266.5" y="2159.8" width="27.4" height="12.6" fill="#fff" stroke="none" rx="1.2"/>
<rect x="266.5" y="2186.1" width="27.4" height="7.7" fill="#fff" stroke="none"/>
<rect x="261.3" y="2199.9" width="32.6" height="12" fill="#fff" stroke="none"/>
<rect x="267.3" y="2218.7" width="26.6" height="7.8" fill="#fff" stroke="none"/>
<rect x="261.3" y="2232.5" width="32.6" height="8.6" fill="#fff" stroke="none"/>
<rect x="261.3" y="2255.7" width="34.2" height="8.6" fill="#fff" stroke="none"/>
<rect x="267.3" y="2270.3" width="28.2" height="6.5" fill="#fff" stroke="none"/>
<rect x="261.3" y="2282.9" width="34.2" height="29.2" fill="#fff" stroke="none"/>
<path d="M247.3 2299.2H269.6 M285.6 2299.2H293.9" stroke="#555" stroke-width="0.7"/>
<text x="278.1" y="2301.7" font-size="6.9" font-weight="bold" text-anchor="middle">2.57</text>
<rect x="287" y="2326.7" width="8.6" height="56.7" fill="#fff" stroke="none"/>
<rect x="268.2" y="2327.5" width="11.1" height="7.8" fill="#fff" stroke="none"/>
<circle cx="269.5" cy="2331.9" r="2.6" fill="#000" stroke="none"/>
<circle cx="278.5" cy="2329.5" r="2.4" fill="#000" stroke="none"/>
<rect x="268.2" y="2376.5" width="11.1" height="6.9" fill="#fff" stroke="none"/>
<circle cx="269.5" cy="2380.9" r="2.6" fill="#000" stroke="none"/>
<circle cx="278.5" cy="2378.5" r="2.4" fill="#000" stroke="none"/>
<path d="M270.5 2342.5H278L274.2 2349Z M270.5 2368.5H278L274.2 2362Z" fill="#fff" stroke="none"/>
<path d="M269 2351L279.5 2360M279.5 2351L269 2360" stroke="#fff" stroke-width="0.6" stroke-dasharray="0.8 1"/>
<path d="M40.6 2319.8L60 2319.8" stroke-width="8.6" stroke-linecap="round"/>
<path d="M46.2 2320L46.2 2386" stroke-width="6"/>
<path d="M40 2390.6L300 2390.6" stroke-width="14.8"/>
<circle cx="40.6" cy="2391.4" r="8.2" fill="#000" stroke="none"/>
<text transform="translate(66.4 1997.8) rotate(-90)" font-size="5.1" text-anchor="end" stroke="#000" stroke-width="0.25">V floor - upgrade</text>
<text transform="translate(113.7 1999.4) rotate(-90)" font-size="5.1" text-anchor="end" stroke="#000" stroke-width="0.25">IV floor - upgrade</text>
<text transform="translate(160.2 2001.8) rotate(-90)" font-size="5.1" text-anchor="end" stroke="#000" stroke-width="0.25">III floor - existing</text>
<text transform="translate(207.5 2003) rotate(-90)" font-size="5.1" text-anchor="end" stroke="#000" stroke-width="0.25">II floor - existing</text>
<text transform="translate(255.6 2004.6) rotate(-90)" font-size="5.1" text-anchor="end" stroke="#000" stroke-width="0.25">I floor - existing</text>
<text transform="translate(301.8 1992.2) rotate(-90)" font-size="5.1" text-anchor="end" textLength="45" lengthAdjust="spacingAndGlyphs" stroke="#000" stroke-width="0.25">ground floor - existing</text>
<text transform="translate(56.6 2260) rotate(-90)" font-size="3.6" text-anchor="end" stroke="#000" stroke-width="0.2">terrace</text></g>
<text transform="translate(302.6 1792.6) rotate(-90)" font-size="4.4" text-anchor="end" textLength="35.5" lengthAdjust="spacingAndGlyphs" stroke="#000" stroke-width="0.25">cross section a-a</text>
<text x="933" y="350" font-size="23" textLength="264.5" lengthAdjust="spacingAndGlyphs">EXISTING FLOOR PLAN</text>
<text x="933.3" y="1384.2" font-size="23" textLength="271" lengthAdjust="spacingAndGlyphs">UPGRADE FLOOR PLAN</text>
</svg></body></html>
